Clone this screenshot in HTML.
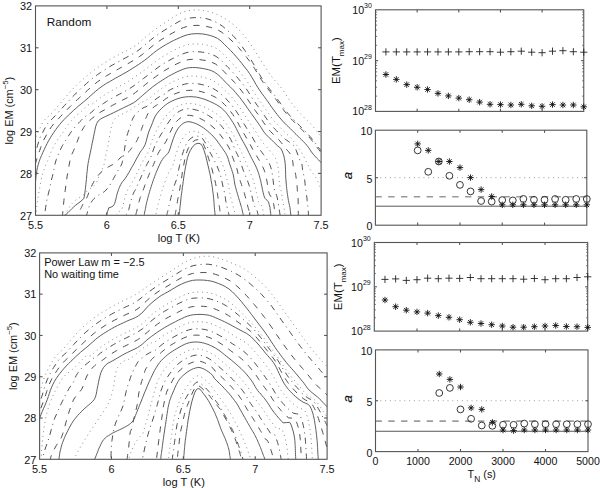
<!DOCTYPE html><html><head><meta charset="utf-8"><style>html,body{margin:0;padding:0;background:#fff;}svg{display:block;}</style></head><body><svg width="600" height="488" viewBox="0 0 600 488" font-family='"Liberation Sans", sans-serif' fill="#111">
<rect width="600" height="488" fill="#fff"/>
<clipPath id="clip5"><rect x="35.5" y="5.9" width="285.6" height="209.4"/></clipPath>
<g clip-path="url(#clip5)" fill="none">
<path d="M369.6 197.8 L367.6 195.2 L365.5 192.7 L363.5 190.1 L361.5 187.6 L359.6 185.1 L357.6 182.7 L355.7 180.2 L353.7 177.8 L351.9 175.4 L350.0 173.0 L348.1 170.7 L346.2 168.4 L344.4 166.0 L342.6 163.7 L340.8 161.4 L338.9 159.2 L337.1 156.8 L335.3 154.6 L333.5 152.3 L331.6 150.1 L329.9 147.8 L328.1 145.5 L326.2 143.2 L324.4 141.0 L322.6 138.7 L320.8 136.4 L319.0 134.1 L317.2 131.8 L315.4 129.5 L313.6 127.2 L311.6 124.9 L309.6 122.8 L307.5 120.7 L305.3 118.7 L303.2 116.6 L301.2 114.4 L299.1 112.2 L297.1 109.9 L295.1 107.6 L293.1 105.1 L291.2 102.5 L289.3 99.8 L287.4 96.9 L285.5 93.9 L283.6 90.9 L281.5 88.1 L279.3 85.4 L277.0 82.8 L274.6 80.2 L272.3 77.4 L270.0 74.3 L267.7 71.0 L265.4 67.5 L263.1 63.9 L260.7 60.1 L258.3 56.2 L255.7 52.1 L253.1 48.0 L250.4 44.0 L247.5 40.0 L244.5 36.1 L241.3 32.3 L238.0 28.8 L234.5 25.5 L230.9 22.7 L227.2 20.1 L223.4 17.7 L219.5 15.6 L215.5 13.8 L211.4 12.4 L207.3 11.3 L203.2 10.5 L199.0 10.0 L194.8 10.0 L190.6 10.4 L186.5 11.1 L182.4 12.3 L178.4 14.1 L174.5 16.4 L170.6 19.0 L166.9 21.4 L163.2 23.8 L159.6 26.3 L156.0 28.8 L152.5 31.4 L149.1 34.1 L145.8 36.8 L142.6 39.6 L139.5 42.5 L136.3 45.1 L133.1 47.2 L129.8 49.0 L126.5 50.7 L123.1 52.4 L119.8 54.1 L116.6 55.9 L113.3 57.6 L110.1 59.4 L107.0 61.3 L103.8 63.2 L100.8 65.3 L97.8 67.4 L94.8 69.6 L91.9 71.8 L89.1 74.1 L86.3 76.4 L83.5 78.8 L80.8 81.2 L78.1 83.6 L75.5 86.2 L73.0 88.8 L70.6 91.4 L68.2 94.1 L65.9 96.8 L63.5 99.6 L61.2 102.2 L58.9 104.9 L56.6 107.6 L54.4 110.3 L52.0 112.9 L49.5 115.4 L46.8 117.7 L44.3 120.2 L42.3 123.1 L40.8 126.4 L39.3 129.7 L37.7 132.8 L36.1 135.9 L35.4 139.6 L34.6 143.2 L33.8 146.8 L33.0 150.3 L32.2 153.7 L31.5 157.2 L30.7 160.5 L30.0 163.9 L29.3 167.2 L28.5 170.5 L27.8 173.8 L27.1 177.0 L26.4 180.3 L25.7 183.5 L25.0 186.7 L24.3 189.9 L23.6 193.0 L22.9 196.2 L22.2 199.3 L21.6 202.5 L20.8 205.6 L20.2 208.7 L19.5 211.9 L18.8 215.0 L18.2 218.1" stroke="#888" stroke-width="1.0" stroke-dasharray="1 3.7"/>
<path d="M363.6 199.7 L361.4 197.2 L359.4 194.8 L357.3 192.4 L355.2 190.0 L353.2 187.7 L351.3 185.4 L349.3 183.1 L347.3 180.9 L345.4 178.6 L343.5 176.4 L341.6 174.2 L339.6 172.0 L337.8 169.9 L336.0 167.7 L334.1 165.6 L332.2 163.5 L330.4 161.3 L328.6 159.2 L326.8 157.2 L325.0 155.1 L323.2 153.0 L321.4 150.9 L319.6 148.8 L317.9 146.7 L316.3 144.4 L314.6 142.2 L312.9 140.0 L311.2 137.8 L309.3 135.7 L307.5 133.7 L305.6 131.6 L303.6 129.6 L301.7 127.7 L299.7 125.7 L297.7 123.7 L295.7 121.7 L293.7 119.7 L291.7 117.6 L289.7 115.5 L287.8 113.2 L285.9 110.9 L284.0 108.5 L282.2 105.9 L280.3 103.2 L278.5 100.5 L276.5 97.8 L274.5 95.2 L272.4 92.5 L270.3 89.9 L268.1 87.2 L266.0 84.2 L263.8 81.2 L261.6 77.9 L259.5 74.4 L257.3 70.7 L255.1 66.6 L252.7 62.6 L250.3 58.6 L247.7 54.6 L245.0 50.7 L242.2 46.7 L239.3 42.8 L236.2 39.1 L233.0 35.6 L229.6 32.3 L226.1 29.3 L222.5 26.2 L218.8 23.7 L215.0 21.7 L211.0 20.1 L207.1 18.8 L203.0 18.0 L199.0 17.6 L194.9 17.6 L190.9 17.9 L186.9 18.6 L182.9 19.8 L179.0 21.5 L175.2 23.7 L171.5 25.9 L167.8 28.1 L164.2 30.4 L160.7 32.7 L157.2 35.1 L153.8 37.5 L150.5 40.1 L147.3 42.8 L144.2 45.5 L141.1 48.2 L138.0 50.6 L134.9 52.7 L131.7 54.5 L128.5 56.3 L125.3 58.0 L122.1 59.7 L119.0 61.5 L115.8 63.2 L112.7 64.9 L109.6 66.7 L106.6 68.6 L103.6 70.5 L100.6 72.5 L97.7 74.5 L94.8 76.6 L92.0 78.8 L89.3 81.1 L86.6 83.4 L84.0 85.8 L81.4 88.1 L78.9 90.6 L76.3 93.0 L73.9 95.5 L71.4 98.0 L69.1 100.5 L66.7 103.1 L64.4 105.6 L62.0 108.2 L59.7 110.7 L57.4 113.3 L55.1 115.8 L52.8 118.3 L50.3 120.7 L47.9 123.2 L46.0 126.1 L44.4 129.2 L42.8 132.3 L41.2 135.3 L39.6 138.4 L38.7 141.8 L37.6 145.2 L36.7 148.6 L35.7 151.9 L34.8 155.2 L34.0 158.5 L33.1 161.8 L32.4 165.1 L31.7 168.4 L31.0 171.7 L30.4 174.9 L29.8 178.2 L29.3 181.4 L28.7 184.6 L28.2 187.8 L27.7 191.0 L27.2 194.2 L26.7 197.3 L26.2 200.4 L25.7 203.6 L25.1 206.7 L24.6 209.7 L24.1 212.8 L23.6 215.9 L23.1 219.0" stroke="#505050" stroke-width="1.0" stroke-dasharray="6.2 4.3 1 4.3"/>
<path d="M362.7 199.9 L360.6 197.5 L358.5 195.1 L356.4 192.7 L354.3 190.4 L352.4 188.0 L350.4 185.7 L348.4 183.5 L346.4 181.3 L344.5 179.0 L342.6 176.8 L340.7 174.7 L338.7 172.5 L336.9 170.4 L335.1 168.2 L333.2 166.1 L331.3 164.1 L329.5 162.0 L327.7 159.9 L325.9 157.8 L324.1 155.8 L322.3 153.7 L320.4 151.7 L318.7 149.6 L317.0 147.4 L315.4 145.2 L313.8 143.0 L312.1 140.8 L310.4 138.6 L308.5 136.6 L306.7 134.6 L304.8 132.5 L302.8 130.6 L300.9 128.6 L298.9 126.7 L296.9 124.7 L294.9 122.7 L292.9 120.7 L291.0 118.7 L289.0 116.6 L287.1 114.4 L285.2 112.1 L283.3 109.6 L281.5 107.1 L279.6 104.5 L277.8 101.9 L275.8 99.2 L273.9 96.5 L271.8 93.9 L269.7 91.2 L267.6 88.5 L265.4 85.6 L263.3 82.5 L261.1 79.3 L259.0 75.8 L256.8 72.2 L254.5 68.4 L252.1 64.8 L249.6 61.2 L246.9 57.7 L244.2 54.2 L241.3 50.8 L238.4 47.4 L235.3 44.1 L232.1 41.0 L228.8 38.1 L225.4 35.3 L221.9 32.3 L218.2 30.1 L214.5 28.5 L210.7 27.4 L206.8 26.5 L202.9 25.8 L199.0 25.4 L195.1 25.4 L191.2 25.7 L187.3 26.4 L183.4 27.6 L179.7 29.2 L176.0 31.1 L172.4 33.1 L168.8 35.1 L165.3 37.2 L161.9 39.3 L158.5 41.5 L155.2 43.8 L152.0 46.4 L148.9 49.0 L145.8 51.6 L142.8 54.1 L139.8 56.3 L136.7 58.4 L133.7 60.3 L130.6 62.1 L127.5 63.9 L124.5 65.6 L121.4 67.3 L118.4 69.0 L115.4 70.6 L112.4 72.4 L109.4 74.1 L106.4 75.9 L103.5 77.8 L100.7 79.7 L97.8 81.6 L95.1 83.7 L92.5 85.9 L89.9 88.2 L87.3 90.5 L84.8 92.8 L82.3 95.1 L79.8 97.4 L77.3 99.7 L74.8 102.0 L72.4 104.3 L70.0 106.7 L67.6 109.1 L65.2 111.5 L62.9 113.9 L60.6 116.4 L58.4 118.8 L56.1 121.3 L53.8 123.8 L51.7 126.4 L49.8 129.2 L48.1 132.1 L46.4 135.0 L44.8 138.0 L43.2 140.9 L42.0 144.1 L40.8 147.3 L39.7 150.5 L38.6 153.6 L37.5 156.8 L36.5 159.9 L35.6 163.1 L34.8 166.3 L34.2 169.6 L33.6 172.9 L33.1 176.1 L32.7 179.4 L32.3 182.6 L31.9 185.9 L31.6 189.1 L31.2 192.2 L30.9 195.4 L30.5 198.5 L30.2 201.6 L29.9 204.7 L29.6 207.8 L29.2 210.8 L28.9 213.8 L28.6 216.9 L28.2 219.9" stroke="#505050" stroke-width="1.0" stroke-dasharray="6.2 6.6"/>
<path d="M374.3 219.1 L371.8 216.4 L369.4 213.8 L366.9 211.2 L364.5 208.7 L362.3 206.2 L360.0 203.8 L357.7 201.5 L355.6 199.1 L353.5 196.8 L351.3 194.6 L349.1 192.4 L347.1 190.1 L345.1 188.0 L343.1 185.8 L341.0 183.8 L339.1 181.7 L337.2 179.6 L335.3 177.5 L333.3 175.5 L331.4 173.5 L329.6 171.5 L327.7 169.6 L325.8 167.6 L324.0 165.7 L322.2 163.7 L320.4 161.8 L318.6 159.9 L316.7 158.0 L314.9 156.1 L313.2 154.2 L311.6 152.1 L310.1 149.9 L308.7 147.7 L307.1 145.6 L305.4 143.6 L303.6 141.7 L301.7 139.9 L299.8 138.1 L297.9 136.2 L296.0 134.3 L294.2 132.5 L292.3 130.6 L290.4 128.7 L288.5 126.9 L286.5 125.0 L284.6 123.1 L282.7 121.1 L280.9 119.0 L279.0 116.8 L277.2 114.5 L275.4 112.2 L273.6 109.8 L271.7 107.2 L269.9 104.6 L268.1 101.9 L266.1 99.2 L264.2 96.5 L262.1 93.8 L260.1 90.9 L258.0 87.8 L256.0 84.5 L254.0 80.9 L251.8 77.2 L249.6 73.6 L247.2 70.2 L244.6 67.0 L242.0 63.7 L239.3 60.3 L236.5 57.0 L233.6 53.7 L230.6 50.5 L227.5 47.4 L224.3 44.3 L221.0 40.9 L217.5 38.4 L213.9 36.7 L210.2 35.5 L206.5 34.6 L202.8 34.0 L199.0 33.7 L195.2 33.7 L191.5 34.0 L187.7 34.7 L184.0 35.9 L180.4 37.4 L176.8 39.0 L173.3 40.6 L169.8 42.5 L166.4 44.4 L163.1 46.3 L159.8 48.4 L156.6 50.6 L153.5 53.0 L150.5 55.5 L147.6 58.0 L144.6 60.3 L141.6 62.4 L138.7 64.4 L135.8 66.3 L132.8 68.2 L129.9 70.0 L127.0 71.8 L124.1 73.4 L121.1 75.1 L118.2 76.7 L115.3 78.3 L112.4 80.0 L109.5 81.7 L106.6 83.3 L103.8 85.1 L101.0 87.0 L98.4 89.0 L95.8 91.1 L93.3 93.3 L90.8 95.5 L88.4 97.7 L85.9 99.9 L83.4 102.0 L80.9 104.1 L78.3 106.2 L75.9 108.3 L73.4 110.5 L71.0 112.8 L68.6 115.0 L66.3 117.3 L64.0 119.6 L61.8 122.0 L59.6 124.5 L57.6 127.1 L55.7 129.7 L53.8 132.4 L52.0 135.1 L50.3 137.9 L48.6 140.7 L47.1 143.6 L45.6 146.5 L44.2 149.5 L42.9 152.4 L41.6 155.4 L40.3 158.4 L39.2 161.4 L38.2 164.5 L37.4 167.7 L36.8 170.9 L36.3 174.1 L35.9 177.4 L35.6 180.7 L35.4 183.9 L35.3 187.2 L35.2 190.4 L35.0 193.5 L34.9 196.7 L34.7 199.8 L34.5 202.8 L34.4 205.9 L34.2 208.9 L34.1 211.9 L34.0 214.9 L33.9 217.9 L33.7 220.8 L33.5 223.8 L33.4 226.7 L33.3 229.7 L33.1 232.6 L33.0 235.5 L32.8 238.4 L32.8 241.3" stroke="#555" stroke-width="0.95"/>
<path d="M323.0 190.0 L322.3 189.3 L321.3 188.3 L320.2 187.1 L319.3 185.9 L318.7 184.6 L318.4 183.2 L318.0 181.8 L317.4 180.4 L316.6 179.0 L315.7 177.6 L314.7 176.2 L313.7 174.8 L312.8 173.5 L311.9 172.2 L311.0 170.8 L310.1 169.3 L309.2 167.6 L308.3 165.7 L307.3 163.8 L306.4 161.9 L305.5 160.1 L304.6 158.2 L303.7 156.4 L302.7 154.5 L301.6 152.6 L300.5 150.8 L299.3 148.9 L298.0 147.0 L296.5 144.9 L294.7 142.7 L293.1 140.7 L292.0 139.3 L290.2 137.4 L288.4 135.6 L286.5 133.8 L284.7 132.1 L282.8 130.3 L281.0 128.4 L279.2 126.5 L277.4 124.6 L275.6 122.6 L273.8 120.5 L272.0 118.2 L270.3 115.9 L268.6 113.4 L266.9 110.9 L265.1 108.3 L263.3 105.7 L261.4 103.1 L259.4 100.5 L257.5 97.7 L255.5 94.8 L253.5 91.7 L251.5 88.3 L249.5 84.9 L247.3 81.6 L245.0 78.4 L242.5 75.4 L240.0 72.3 L237.4 69.2 L234.8 66.0 L232.0 63.0 L229.1 60.0 L226.1 57.0 L223.1 54.0 L219.9 50.9 L216.6 48.5 L213.2 46.9 L209.7 45.8 L206.2 44.9 L202.6 44.3 L199.0 44.0 L195.4 43.9 L191.8 44.0 L188.2 44.6 L184.7 45.6 L181.2 46.9 L177.8 48.4 L174.4 50.0 L171.1 51.7 L167.9 53.5 L164.7 55.4 L161.5 57.3 L158.5 59.4 L155.5 61.6 L152.6 63.9 L149.7 66.2 L146.9 68.3 L144.1 70.4 L141.3 72.4 L138.5 74.4 L135.8 76.3 L133.1 78.2 L130.3 80.0 L127.6 81.8 L124.8 83.4 L122.0 84.9 L119.2 86.5 L116.4 88.0 L113.7 89.5 L110.9 91.1 L108.2 92.7 L105.5 94.3 L102.8 96.1 L100.3 98.0 L97.7 99.9 L95.2 101.8 L92.7 103.7 L87.9 104.9 L86.8 106.0 L85.3 107.6 L83.5 109.4 L81.7 111.1 L79.9 112.6 L78.0 114.1 L76.2 115.6 L74.4 117.2 L72.7 119.0 L71.2 120.8 L69.6 122.7 L68.2 124.6 L66.9 126.4 L65.8 128.2 L64.6 130.1 L63.3 132.0 L61.8 134.1 L60.2 136.2 L58.6 138.4 L57.1 140.6 L55.8 142.7 L54.5 144.8 L53.3 147.0 L52.2 149.2 L51.2 151.5 L50.3 153.9 L49.4 156.4 L48.5 158.7 L47.6 160.9 L46.6 163.0 L45.7 165.1 L44.8 167.3 L44.0 169.7 L43.2 172.1 L42.5 174.6 L41.8 177.1 L41.2 179.6 L40.8 182.1 L40.3 184.5 L39.9 187.0 L39.4 189.5 L39.0 191.9 L38.5 194.3 L38.1 196.8 L37.7 199.3 L37.4 201.8 L37.1 204.3 L36.8 206.7 L36.5 209.3 L36.3 212.0 L36.1 214.3 L36.0 216.0" stroke="#888" stroke-width="1.0" stroke-dasharray="1 3.7"/>
<path d="M308.4 217.0 L308.4 215.7 L308.4 213.9 L308.3 211.9 L308.2 209.9 L308.0 208.1 L307.8 206.3 L307.5 204.5 L307.3 202.5 L307.1 200.2 L306.9 197.8 L306.6 195.4 L306.4 193.3 L306.2 191.7 L305.9 190.5 L305.6 189.3 L305.4 187.7 L305.2 185.6 L305.0 183.2 L304.8 180.8 L304.5 178.5 L304.1 176.5 L303.6 174.7 L303.1 172.9 L302.7 171.1 L302.5 169.2 L302.3 167.3 L302.1 165.4 L301.8 163.7 L301.3 162.3 L300.6 161.1 L299.8 159.9 L299.0 158.2 L298.1 155.8 L297.2 153.0 L296.2 150.3 L295.3 148.1 L294.6 146.8 L294.1 145.9 L293.5 145.3 L292.5 144.4 L290.9 143.1 L288.8 141.7 L286.8 140.3 L285.4 139.4 L283.6 137.7 L281.8 136.0 L280.0 134.3 L278.2 132.5 L276.5 130.7 L274.7 128.9 L272.9 127.0 L271.2 125.0 L269.5 122.9 L267.8 120.6 L266.2 118.1 L264.5 115.7 L262.8 113.1 L261.0 110.6 L259.2 108.1 L257.4 105.6 L255.5 102.9 L253.5 100.2 L251.6 97.2 L249.7 94.1 L247.7 90.9 L245.5 87.7 L243.3 84.7 L240.9 81.8 L238.5 78.9 L236.0 75.9 L233.4 73.0 L230.7 70.1 L227.9 67.3 L225.1 64.4 L222.2 61.4 L219.1 58.6 L215.9 56.3 L212.7 54.8 L209.3 53.6 L205.9 52.8 L202.5 52.2 L199.0 51.8 L195.5 51.7 L192.1 51.7 L188.6 52.1 L185.2 53.0 L181.9 54.3 L178.6 55.7 L175.3 57.2 L172.1 58.8 L169.0 60.5 L165.9 62.3 L162.9 64.1 L159.9 66.1 L157.0 68.2 L154.2 70.3 L151.4 72.4 L148.7 74.5 L146.0 76.6 L143.3 78.6 L140.7 80.6 L138.1 82.6 L135.5 84.5 L132.9 86.4 L130.3 88.1 L127.7 89.8 L125.0 91.2 L122.3 92.7 L119.6 94.1 L116.9 95.5 L114.2 97.0 L111.5 98.5 L108.9 100.0 L106.3 101.6 L103.7 103.3 L101.2 104.9 L98.6 106.6 L96.1 108.3 L93.6 110.1 L91.6 112.3 L90.8 112.8 L89.6 113.5 L88.2 114.3 L86.7 115.4 L85.1 116.7 L83.3 118.3 L81.6 120.0 L80.0 121.5 L78.8 122.8 L77.7 123.9 L76.7 125.0 L75.6 126.4 L74.2 128.0 L72.7 129.9 L71.3 131.8 L70.0 133.5 L69.0 135.1 L68.1 136.5 L67.3 137.9 L66.4 139.4 L65.4 140.9 L64.4 142.4 L63.5 143.9 L62.5 145.5 L61.6 147.2 L60.7 149.0 L59.9 150.9 L59.0 152.9 L58.1 155.0 L57.2 157.3 L56.3 159.6 L55.5 162.0 L54.9 164.5 L54.4 167.1 L53.9 169.7 L53.4 172.2 L52.8 174.5 L52.3 176.8 L51.7 178.9 L51.2 181.0 L50.8 182.9 L50.5 184.5 L50.2 186.3 L49.8 188.2 L49.2 190.5 L48.5 193.1 L47.9 195.7 L47.3 198.0 L46.9 199.9 L46.6 201.4 L46.3 203.0 L46.0 205.0 L45.6 207.7 L45.2 210.9 L44.8 213.9 L44.5 216.0" stroke="#505050" stroke-width="1.0" stroke-dasharray="6.2 4.3 1 4.3"/>
<path d="M298.3 217.0 L298.3 213.4 L298.2 208.2 L298.2 202.9 L298.1 198.8 L298.0 196.6 L297.8 195.4 L297.6 194.5 L297.5 193.3 L297.4 191.6 L297.3 189.7 L297.2 187.8 L297.1 185.9 L296.9 184.0 L296.7 182.1 L296.4 180.2 L296.2 178.5 L296.0 177.0 L295.8 175.6 L295.6 174.3 L295.3 173.0 L294.9 171.6 L294.4 170.3 L293.9 168.9 L293.5 167.4 L293.2 165.7 L293.0 163.8 L292.8 161.8 L292.5 160.1 L292.2 158.6 L291.8 157.2 L291.4 155.9 L290.7 154.5 L289.7 153.1 L288.5 151.6 L287.2 150.2 L286.1 149.0 L285.3 148.0 L284.7 147.1 L284.1 146.3 L283.3 145.3 L282.2 143.9 L281.0 142.4 L279.8 140.9 L279.0 139.9 L277.3 138.2 L275.5 136.5 L273.8 134.8 L272.1 133.1 L270.3 131.3 L268.6 129.4 L267.0 127.4 L265.4 125.1 L263.8 122.8 L262.2 120.3 L260.6 117.9 L258.9 115.5 L257.1 113.1 L255.3 110.6 L253.5 108.0 L251.6 105.4 L249.8 102.6 L247.8 99.7 L245.9 96.7 L243.8 93.8 L241.6 90.9 L239.4 88.1 L237.0 85.3 L234.6 82.5 L232.1 79.8 L229.5 77.1 L226.8 74.5 L224.1 71.6 L221.3 68.7 L218.3 66.1 L215.3 63.9 L212.1 62.4 L208.9 61.3 L205.6 60.5 L202.3 60.0 L199.0 59.5 L195.7 59.3 L192.3 59.3 L189.0 59.6 L185.7 60.3 L182.5 61.4 L179.3 62.7 L176.2 64.2 L173.1 65.7 L170.1 67.3 L167.1 69.1 L164.2 70.8 L161.3 72.7 L158.5 74.6 L155.8 76.6 L153.1 78.6 L150.4 80.6 L147.8 82.6 L145.3 84.6 L142.8 86.7 L140.3 88.6 L137.8 90.6 L135.4 92.6 L132.9 94.4 L130.4 96.0 L127.8 97.4 L125.2 98.8 L122.6 100.1 L120.0 101.4 L117.4 102.8 L114.8 104.1 L112.2 105.5 L109.6 107.0 L107.1 108.4 L104.5 109.9 L101.9 111.3 L99.3 112.8 L97.0 115.0 L96.3 115.4 L95.3 116.0 L94.1 116.8 L92.8 117.8 L91.3 119.0 L89.7 120.5 L88.1 122.0 L86.7 123.4 L85.7 124.5 L85.0 125.6 L84.3 126.6 L83.6 127.7 L82.8 129.0 L82.0 130.3 L81.2 131.7 L80.5 133.2 L79.8 134.7 L79.2 136.2 L78.6 137.8 L78.0 139.4 L77.4 141.1 L76.8 142.8 L76.2 144.5 L75.6 146.1 L75.0 147.6 L74.3 148.9 L73.7 150.3 L73.1 151.7 L72.5 153.0 L71.9 154.1 L71.3 155.6 L70.7 157.8 L69.9 161.1 L69.1 165.2 L68.3 169.5 L67.6 173.5 L67.0 177.0 L66.6 180.4 L66.1 183.7 L65.7 187.0 L65.2 190.3 L64.8 193.6 L64.3 197.0 L63.9 200.5 L63.5 204.6 L63.1 209.1 L62.7 213.2 L62.5 216.0" stroke="#505050" stroke-width="1.0" stroke-dasharray="6.2 6.6"/>
<path d="M294.7 246.7 L294.5 245.0 L294.2 243.3 L294.1 241.7 L293.9 240.0 L293.8 238.4 L293.6 236.7 L293.3 235.1 L293.1 233.4 L292.8 231.8 L292.7 230.1 L292.5 228.4 L292.3 226.7 L292.1 225.1 L291.9 223.4 L291.6 221.7 L291.4 220.0 L291.3 218.2 L291.0 216.5 L290.8 214.8 L290.6 213.0 L290.4 211.2 L290.2 209.4 L290.0 207.6 L289.5 205.8 L289.2 204.1 L288.8 202.3 L288.4 200.4 L288.1 198.6 L287.8 196.7 L287.5 194.7 L287.2 192.7 L287.0 190.7 L286.7 188.6 L286.5 186.4 L286.3 184.2 L286.1 182.0 L285.9 179.6 L285.7 177.2 L285.6 174.7 L285.6 172.1 L285.5 169.3 L285.4 166.6 L285.2 163.8 L284.9 161.0 L284.4 158.4 L283.8 155.8 L283.0 153.3 L282.1 150.9 L281.0 148.8 L279.4 147.1 L277.6 145.8 L275.9 144.2 L274.2 142.5 L272.6 140.9 L270.9 139.2 L269.2 137.7 L267.5 136.0 L265.8 134.3 L264.2 132.3 L262.7 130.1 L261.3 127.8 L259.7 125.5 L258.2 123.1 L256.5 120.8 L254.8 118.4 L253.1 116.0 L251.4 113.6 L249.6 111.1 L247.7 108.5 L245.9 105.8 L243.9 103.0 L241.9 100.3 L239.8 97.6 L237.7 95.0 L235.4 92.3 L233.1 89.7 L230.6 87.2 L228.1 84.8 L225.6 82.3 L223.0 79.5 L220.3 76.7 L217.5 74.3 L214.6 72.3 L211.5 70.7 L208.4 69.7 L205.3 69.0 L202.2 68.4 L199.0 67.9 L195.8 67.6 L192.6 67.5 L189.4 67.7 L186.3 68.2 L183.2 69.2 L180.1 70.5 L177.1 71.8 L174.2 73.3 L171.3 74.8 L168.4 76.4 L165.6 78.1 L162.8 79.9 L160.1 81.6 L157.5 83.4 L154.9 85.2 L152.3 87.2 L149.8 89.2 L147.4 91.2 L145.0 93.3 L142.7 95.3 L140.4 97.3 L138.1 99.3 L135.8 101.2 L133.5 102.8 L131.0 104.1 L128.5 105.4 L125.9 106.6 L123.4 107.8 L120.9 109.1 L118.4 110.3 L115.8 111.6 L113.3 112.8 L110.7 114.1 L108.1 115.3 L105.5 116.5 L102.9 117.7 L100.4 119.2 L98.2 120.9 L96.7 123.6 L95.6 126.8 L94.9 130.3 L94.2 133.6 L93.5 136.9 L92.9 140.1 L92.2 143.2 L91.6 146.3 L91.0 149.3 L90.4 152.2 L89.8 155.0 L89.2 157.8 L88.6 160.6 L88.1 163.4 L87.7 166.1 L87.4 168.9 L87.1 171.6 L86.8 174.3 L86.6 177.0 L86.4 179.6 L86.1 182.2 L85.8 184.7 L85.6 187.1 L85.3 189.6 L85.0 191.9 L84.7 194.3 L84.3 196.5 L83.7 198.7 L81.9 200.3 L80.0 201.9 L77.9 203.5 L75.8 205.1 L73.7 206.9 L71.8 208.7 L70.0 210.6 L68.1 212.5 L66.0 214.4 L63.6 216.2 L61.1 218.2 L58.5 220.1 L55.8 222.2 L53.2 224.3 L50.3 226.5 L47.4 228.7 L44.5 231.0 L41.4 233.4 L38.1 235.9" stroke="#555" stroke-width="0.95"/>
<path d="M289.0 246.9 L288.8 245.3 L288.5 243.7 L288.3 242.2 L288.2 240.6 L288.0 239.1 L287.9 237.5 L287.7 236.0 L287.4 234.4 L287.2 232.9 L287.0 231.3 L286.9 229.7 L286.7 228.1 L286.5 226.6 L286.3 225.0 L286.1 223.4 L285.9 221.8 L285.7 220.1 L285.5 218.5 L285.2 216.9 L285.1 215.2 L284.9 213.6 L284.7 211.9 L284.5 210.1 L284.1 208.5 L283.8 206.8 L283.5 205.1 L283.2 203.3 L282.9 201.6 L282.6 199.8 L282.3 198.0 L282.0 196.1 L281.7 194.2 L281.4 192.3 L280.9 190.5 L280.4 188.6 L280.0 186.7 L279.7 184.7 L279.4 182.5 L279.2 180.3 L279.0 177.9 L278.9 175.5 L278.7 173.0 L278.5 170.5 L278.1 168.1 L277.7 165.6 L277.1 163.2 L276.4 160.9 L275.7 158.6 L274.7 156.6 L273.4 154.8 L271.9 153.3 L270.5 151.6 L269.1 149.9 L267.7 148.2 L266.2 146.5 L264.7 144.8 L263.2 143.1 L261.8 141.3 L260.3 139.3 L259.0 137.2 L257.6 135.0 L256.2 132.6 L254.8 130.3 L253.3 128.0 L251.8 125.7 L250.2 123.4 L248.5 121.0 L246.9 118.5 L245.2 115.9 L243.5 113.1 L241.7 110.4 L239.8 107.6 L237.9 104.9 L235.8 102.2 L233.7 99.6 L231.5 97.0 L229.2 94.5 L226.8 92.1 L224.4 89.8 L221.9 87.3 L219.3 84.8 L216.6 82.8 L213.8 81.0 L210.9 79.6 L208.0 78.6 L205.0 77.7 L202.0 77.1 L199.0 76.5 L196.0 76.2 L192.9 76.0 L189.9 76.1 L186.9 76.5 L183.9 77.3 L180.9 78.3 L178.1 79.4 L175.2 80.6 L172.4 82.0 L169.6 83.5 L166.9 85.0 L164.3 86.7 L161.7 88.4 L159.2 90.2 L156.7 92.1 L154.3 94.0 L152.0 96.1 L148.8 98.6 L146.7 99.8 L143.6 101.5 L140.2 103.4 L137.3 105.1 L134.9 106.6 L132.8 108.1 L130.8 109.5 L128.7 110.8 L126.5 112.0 L124.2 113.0 L122.1 114.1 L120.1 115.1 L118.4 116.1 L116.8 117.1 L115.5 118.1 L114.3 119.4 L113.4 121.0 L112.6 122.8 L112.0 124.7 L111.5 126.6 L111.0 128.4 L110.7 130.1 L110.3 131.9 L110.0 133.8 L109.6 135.9 L109.3 138.1 L108.9 140.3 L108.6 142.4 L108.3 144.3 L107.9 146.1 L107.6 147.8 L107.2 149.6 L106.8 151.4 L106.4 153.1 L105.9 154.9 L105.5 156.7 L105.2 158.6 L104.9 160.6 L104.5 162.6 L104.0 164.7 L103.2 166.9 L102.2 169.3 L101.1 171.6 L100.0 174.0 L99.0 176.4 L98.0 179.0 L97.0 181.3 L96.0 183.3 L95.0 184.7 L94.0 185.7 L93.0 186.5 L92.0 187.3 L91.0 188.0 L90.0 188.6 L89.0 189.2 L88.0 190.0 L87.1 191.0 L86.2 192.1 L85.2 193.3 L84.0 194.5 L82.4 195.6 L80.5 196.8 L78.6 198.0 L76.8 199.3 L75.2 200.6 L73.7 202.0 L72.2 203.5 L70.7 205.4 L68.9 208.0 L67.0 211.1 L65.2 214.0 L64.0 216.0" stroke="#888" stroke-width="1.0" stroke-dasharray="1 3.7"/>
<path d="M284.0 247.0 L283.8 245.6 L283.6 244.1 L283.3 242.6 L283.2 241.1 L283.1 239.7 L282.9 238.2 L282.8 236.7 L282.6 235.3 L282.4 233.8 L282.2 232.3 L282.0 230.8 L281.8 229.4 L281.6 227.9 L281.5 226.4 L281.3 224.8 L281.1 223.3 L280.9 221.8 L280.7 220.3 L280.5 218.7 L280.3 217.2 L280.1 215.6 L279.9 214.0 L279.7 212.4 L279.4 210.8 L279.2 209.2 L278.9 207.5 L278.6 205.9 L278.4 204.2 L278.1 202.4 L277.8 200.8 L277.5 199.0 L277.1 197.3 L276.7 195.6 L276.1 194.0 L275.4 192.4 L274.7 190.8 L274.3 189.0 L273.9 187.1 L273.7 185.1 L273.4 183.0 L273.2 180.8 L272.9 178.6 L272.7 176.3 L272.3 174.1 L271.9 171.9 L271.4 169.6 L270.8 167.4 L270.1 165.3 L269.2 163.3 L268.2 161.4 L267.0 159.7 L265.9 158.0 L264.7 156.2 L263.4 154.5 L262.2 152.7 L260.9 151.0 L259.6 149.2 L258.3 147.4 L257.0 145.4 L255.7 143.3 L254.5 141.1 L253.2 138.8 L251.9 136.6 L250.5 134.3 L249.1 132.0 L247.6 129.7 L246.1 127.3 L244.6 124.8 L243.0 122.2 L241.4 119.5 L239.8 116.7 L238.0 113.9 L236.2 111.2 L234.3 108.5 L232.3 105.9 L230.2 103.3 L228.0 100.8 L225.7 98.5 L223.4 96.2 L220.9 94.0 L218.4 91.9 L215.8 90.1 L213.1 88.5 L210.4 87.2 L207.6 86.2 L204.8 85.3 L201.9 84.6 L199.0 84.0 L196.1 83.5 L193.2 83.3 L190.3 83.3 L187.4 83.6 L184.5 84.2 L181.7 85.0 L178.9 85.9 L176.1 87.0 L173.4 88.2 L170.7 89.5 L168.1 91.0 L165.5 92.5 L164.6 94.0 L163.4 94.6 L161.6 95.5 L159.6 96.6 L157.4 98.0 L154.9 99.9 L152.2 102.1 L149.5 104.3 L147.3 106.0 L145.9 106.8 L144.9 107.2 L144.1 107.4 L143.0 108.0 L141.5 109.1 L139.7 110.5 L138.0 111.9 L136.5 113.3 L135.4 114.4 L134.5 115.4 L133.8 116.6 L133.0 118.0 L132.2 119.9 L131.5 122.2 L130.8 124.6 L130.1 126.6 L129.5 128.2 L129.0 129.6 L128.5 130.9 L128.0 132.3 L127.6 133.7 L127.2 135.0 L126.9 136.4 L126.5 138.0 L126.1 139.8 L125.7 141.8 L125.4 143.9 L125.0 146.0 L124.7 148.2 L124.4 150.5 L124.0 152.8 L123.7 155.0 L123.3 157.2 L123.0 159.3 L122.5 161.4 L122.0 163.3 L121.3 165.0 L120.5 166.4 L119.6 167.9 L118.7 169.3 L117.9 170.8 L117.0 172.3 L116.1 173.8 L115.3 175.3 L114.5 176.8 L113.6 178.4 L112.8 179.9 L112.0 181.3 L111.3 182.6 L110.7 183.7 L110.1 184.8 L109.3 186.0 L108.3 187.3 L107.2 188.7 L106.0 190.1 L104.7 191.3 L103.4 192.3 L102.0 193.1 L100.7 193.9 L99.3 194.7 L97.9 195.6 L96.5 196.6 L95.2 197.6 L94.0 198.7 L93.0 199.8 L92.2 200.8 L91.4 202.0 L90.7 203.3 L90.0 204.8 L89.2 206.6 L88.6 208.3 L88.0 210.0 L87.5 211.7 L87.1 213.4 L86.7 214.9 L86.5 216.0" stroke="#505050" stroke-width="1.0" stroke-dasharray="6.2 4.3 1 4.3"/>
<path d="M279.3 247.2 L279.1 245.8 L278.8 244.4 L278.6 243.0 L278.5 241.6 L278.4 240.3 L278.2 238.9 L278.1 237.5 L277.9 236.1 L277.7 234.7 L277.5 233.3 L277.3 231.9 L277.1 230.5 L277.0 229.1 L276.8 227.7 L276.7 226.3 L276.5 224.8 L276.3 223.4 L276.1 221.9 L275.9 220.5 L275.7 219.0 L275.6 217.5 L275.4 216.0 L275.2 214.5 L274.9 213.0 L274.7 211.4 L274.5 209.9 L274.3 208.3 L274.1 206.7 L273.9 205.0 L273.5 203.5 L273.2 201.8 L272.8 200.2 L272.3 198.7 L271.5 197.3 L270.5 196.1 L269.7 194.8 L269.1 193.2 L268.7 191.5 L268.3 189.7 L268.0 187.9 L267.7 185.9 L267.4 183.9 L267.1 181.9 L266.7 179.9 L266.3 177.8 L265.8 175.8 L265.3 173.7 L264.7 171.7 L264.0 169.7 L263.2 167.8 L262.3 166.0 L261.4 164.1 L260.4 162.3 L259.4 160.5 L258.3 158.7 L257.2 156.9 L256.0 155.1 L254.9 153.2 L253.8 151.2 L252.6 149.2 L251.5 147.0 L250.3 144.8 L249.1 142.5 L247.9 140.3 L246.5 138.0 L245.2 135.7 L243.8 133.4 L242.3 130.9 L240.9 128.3 L239.4 125.6 L237.9 122.7 L236.3 119.9 L234.6 117.2 L232.8 114.5 L230.9 111.9 L228.9 109.3 L226.8 106.8 L224.6 104.6 L222.4 102.4 L220.0 100.5 L217.6 98.7 L215.1 97.1 L212.5 95.8 L209.9 94.5 L207.2 93.5 L204.5 92.6 L201.8 91.8 L199.0 91.1 L196.2 90.6 L193.4 90.4 L190.6 90.3 L187.8 90.4 L185.1 90.8 L182.3 91.4 L179.6 92.2 L176.9 93.1 L174.3 94.1 L171.7 95.3 L169.2 96.7 L166.7 98.2 L164.3 99.8 L161.7 102.5 L160.4 103.2 L158.5 104.1 L156.4 105.3 L154.5 106.5 L152.9 107.8 L151.4 109.3 L150.0 110.8 L148.8 112.3 L147.9 113.7 L147.2 115.1 L146.6 116.5 L145.9 118.0 L145.2 119.7 L144.4 121.6 L143.7 123.5 L143.0 125.2 L142.4 126.7 L141.9 128.1 L141.5 129.4 L140.9 130.9 L140.2 132.7 L139.5 134.6 L138.7 136.5 L138.0 138.1 L137.5 139.3 L137.0 140.3 L136.6 141.3 L135.9 142.4 L135.0 143.8 L133.8 145.2 L132.7 146.7 L131.6 148.1 L130.8 149.2 L130.0 150.3 L129.2 151.3 L128.0 152.4 L126.2 153.7 L124.0 155.2 L121.8 156.6 L120.0 158.0 L118.8 159.3 L118.0 160.4 L117.1 161.6 L116.0 162.7 L114.4 163.7 L112.5 164.7 L110.5 165.7 L108.7 166.7 L107.1 167.6 L105.6 168.5 L104.2 169.5 L102.7 170.7 L101.1 172.2 L99.5 173.9 L98.0 175.7 L96.7 177.3 L95.7 178.7 L94.9 179.9 L94.1 181.2 L93.3 182.7 L92.3 184.7 L91.2 187.0 L90.2 189.3 L89.3 191.3 L88.7 192.8 L88.3 194.0 L87.9 195.2 L87.3 196.7 L86.3 198.6 L85.0 200.8 L83.7 202.9 L82.7 204.7 L82.1 205.9 L81.7 206.7 L81.3 207.6 L80.7 208.7 L79.7 210.5 L78.5 212.6 L77.3 214.6 L76.5 216.0" stroke="#505050" stroke-width="1.0" stroke-dasharray="6.2 6.6"/>
<path d="M274.9 247.3 L274.7 246.0 L274.5 244.7 L274.2 243.4 L274.1 242.1 L274.0 240.8 L273.9 239.5 L273.8 238.2 L273.6 236.8 L273.4 235.5 L273.2 234.2 L273.0 232.9 L272.8 231.6 L272.7 230.3 L272.6 228.9 L272.5 227.5 L272.3 226.2 L272.1 224.8 L271.9 223.5 L271.7 222.1 L271.5 220.7 L271.4 219.3 L271.2 217.8 L271.0 216.4 L270.8 215.0 L270.7 213.5 L270.5 212.0 L270.3 210.5 L270.1 208.9 L270.0 207.4 L269.5 205.9 L269.2 204.4 L268.8 202.9 L268.2 201.5 L267.3 200.4 L266.1 199.5 L265.1 198.4 L264.4 197.1 L263.9 195.6 L263.5 194.0 L263.1 192.3 L262.7 190.6 L262.3 188.8 L262.0 187.0 L261.6 185.2 L261.2 183.3 L260.8 181.4 L260.3 179.5 L259.8 177.5 L259.3 175.6 L258.7 173.6 L258.0 171.7 L257.3 169.7 L256.5 167.9 L255.7 166.0 L254.7 164.2 L253.8 162.3 L252.8 160.4 L251.8 158.5 L250.8 156.6 L249.8 154.5 L248.7 152.4 L247.7 150.2 L246.6 148.0 L245.4 145.8 L244.2 143.5 L242.9 141.3 L241.6 139.0 L240.3 136.5 L239.0 133.9 L237.6 131.2 L236.2 128.3 L234.7 125.5 L233.1 122.7 L231.4 120.1 L229.6 117.4 L227.7 114.8 L225.8 112.3 L223.7 110.1 L221.5 108.1 L219.2 106.4 L216.8 104.9 L214.4 103.6 L211.9 102.4 L209.4 101.3 L206.9 100.2 L204.3 99.2 L201.6 98.4 L199.0 97.7 L196.3 97.1 L193.7 96.8 L191.0 96.7 L188.3 96.7 L185.6 96.9 L183.0 97.3 L180.3 97.9 L177.7 98.7 L175.2 99.6 L172.7 100.7 L170.2 101.9 L167.8 103.3 L165.5 105.0 L163.3 106.8 L161.2 108.8 L159.1 110.9 L157.2 113.3 L155.4 115.9 L153.9 119.0 L152.6 122.5 L151.3 125.9 L150.0 128.8 L148.8 131.8 L147.8 135.0 L146.9 138.4 L146.1 141.6 L145.2 144.4 L144.1 146.7 L142.8 148.6 L141.5 150.4 L140.2 152.2 L139.1 154.1 L138.0 156.1 L136.9 158.0 L135.9 159.9 L134.9 161.8 L133.9 163.6 L132.9 165.4 L131.9 167.1 L130.9 168.9 L130.0 170.6 L129.0 172.3 L128.1 173.9 L127.1 175.5 L126.1 177.1 L125.1 178.6 L124.0 180.0 L122.8 181.4 L121.7 182.8 L120.8 184.4 L120.0 186.0 L119.3 187.7 L118.6 189.4 L118.0 191.2 L117.4 192.9 L116.9 194.6 L116.5 196.4 L116.1 198.2 L115.7 199.9 L115.2 201.6 L114.7 203.3 L114.0 204.8 L112.9 206.2 L111.0 207.1 L108.7 207.9 L108.3 209.6 L107.7 211.2 L107.0 212.8 L106.4 214.5 L105.7 216.1 L105.1 217.7 L104.5 219.3 L103.8 220.9 L103.2 222.5 L102.5 224.1 L101.8 225.8 L101.2 227.4 L100.6 229.1 L100.0 230.8 L99.2 232.4 L98.5 234.1 L97.8 235.8 L97.2 237.5" stroke="#555" stroke-width="0.95"/>
<path d="M268.6 247.6 L268.4 246.4 L268.2 245.2 L267.9 244.0 L267.8 242.8 L267.6 241.6 L267.5 240.4 L267.3 239.2 L267.2 238.0 L267.0 236.8 L266.8 235.6 L266.6 234.4 L266.4 233.2 L266.2 232.0 L266.1 230.8 L265.9 229.5 L265.8 228.3 L265.6 227.1 L265.3 225.9 L265.1 224.6 L264.9 223.4 L264.8 222.1 L264.6 220.8 L264.4 219.5 L264.2 218.2 L264.0 216.9 L263.8 215.5 L263.6 214.2 L263.4 212.8 L263.2 211.4 L262.9 210.1 L262.6 208.7 L262.2 207.4 L261.7 206.1 L261.0 205.0 L260.0 204.0 L259.2 203.0 L258.6 201.7 L258.2 200.3 L257.8 198.8 L257.5 197.3 L257.1 195.8 L256.8 194.2 L256.4 192.6 L256.1 190.9 L255.7 189.2 L255.3 187.5 L254.8 185.8 L254.4 184.0 L253.9 182.2 L253.4 180.4 L252.8 178.6 L252.1 176.9 L251.4 175.1 L250.7 173.4 L249.9 171.6 L249.1 169.8 L248.3 168.0 L247.4 166.2 L246.5 164.2 L245.7 162.2 L244.8 160.1 L243.9 157.8 L243.0 155.6 L242.0 153.3 L241.0 151.1 L239.9 148.9 L238.7 146.6 L237.5 144.2 L236.3 141.6 L235.1 138.8 L233.9 136.0 L232.5 133.3 L231.0 130.7 L229.4 128.2 L227.7 125.8 L225.9 123.3 L224.1 121.0 L222.1 118.8 L220.1 116.7 L218.0 114.9 L215.8 113.3 L213.5 111.9 L211.2 110.5 L208.8 109.3 L206.4 108.1 L204.0 106.9 L201.5 105.9 L199.0 105.1 L196.5 104.4 L193.9 103.9 L191.3 103.6 L188.8 103.5 L186.2 103.6 L183.7 104.0 L181.2 104.8 L178.7 105.7 L176.3 106.9 L174.0 108.3 L171.8 110.0 L169.7 111.9 L167.6 114.1 L165.7 116.4 L163.8 118.7 L162.1 121.2 L160.4 123.6 L158.7 126.1 L157.3 128.8 L155.9 131.7 L154.7 134.5 L153.4 137.1 L152.2 139.8 L151.2 142.6 L150.3 145.6 L149.5 148.5 L148.6 151.0 L147.6 153.2 L146.4 155.1 L145.2 156.9 L144.2 158.7 L143.1 160.6 L142.2 162.5 L141.2 164.4 L140.3 166.2 L139.4 168.0 L138.6 169.8 L137.7 171.5 L136.8 173.2 L136.0 174.9 L135.2 176.6 L134.4 178.2 L133.6 179.8 L132.7 181.4 L131.9 182.9 L131.1 184.4 L130.2 185.8 L129.2 187.2 L128.4 188.6 L127.6 190.1 L127.0 191.7 L126.4 193.2 L125.8 194.9 L125.3 196.5 L124.8 198.1 L124.4 199.7 L124.0 201.3 L123.6 202.9 L123.2 204.5 L122.8 206.0 L122.4 207.5 L121.9 209.0 L121.0 210.3 L119.6 211.3 L117.8 212.1 L117.4 213.7 L116.9 215.1 L116.4 216.6 L115.9 218.1 L115.3 219.5 L114.8 221.0 L114.3 222.5 L113.8 224.0 L113.2 225.4 L112.7 226.9 L112.1 228.3 L111.6 229.8 L111.1 231.3 L110.6 232.8 L110.0 234.3 L109.4 235.8 L108.9 237.3 L108.4 238.9" stroke="#888" stroke-width="1.0" stroke-dasharray="1 3.7"/>
<path d="M263.7 247.7 L263.5 246.6 L263.3 245.5 L263.0 244.4 L262.8 243.3 L262.6 242.2 L262.4 241.1 L262.3 240.0 L262.1 238.9 L262.0 237.8 L261.8 236.7 L261.6 235.6 L261.4 234.4 L261.2 233.3 L261.1 232.2 L260.9 231.1 L260.7 230.0 L260.5 228.8 L260.2 227.7 L259.9 226.6 L259.8 225.4 L259.6 224.3 L259.5 223.1 L259.3 221.9 L259.1 220.7 L258.9 219.5 L258.7 218.3 L258.5 217.0 L258.2 215.8 L258.0 214.5 L257.7 213.3 L257.4 212.1 L257.1 210.8 L256.7 209.6 L256.1 208.5 L255.3 207.6 L254.7 206.5 L254.2 205.3 L253.8 204.0 L253.5 202.7 L253.1 201.3 L252.8 199.8 L252.5 198.4 L252.1 196.9 L251.8 195.4 L251.4 193.8 L251.0 192.2 L250.6 190.6 L250.2 189.0 L249.7 187.4 L249.2 185.7 L248.7 184.1 L248.1 182.4 L247.5 180.7 L246.8 179.1 L246.1 177.4 L245.4 175.7 L244.7 173.9 L244.0 172.1 L243.2 170.2 L242.5 168.2 L241.8 166.0 L241.1 163.7 L240.3 161.4 L239.4 159.2 L238.5 157.0 L237.5 154.8 L236.4 152.5 L235.3 150.2 L234.3 147.6 L233.2 144.8 L232.0 142.0 L230.7 139.4 L229.3 136.9 L227.8 134.6 L226.2 132.3 L224.5 130.0 L222.8 127.7 L221.0 125.5 L219.0 123.4 L217.1 121.6 L215.0 119.9 L212.8 118.3 L210.6 116.9 L208.4 115.5 L206.1 114.2 L203.8 112.9 L201.4 111.8 L199.0 110.8 L196.6 110.1 L194.1 109.5 L191.6 109.0 L189.1 108.8 L186.6 108.8 L184.2 109.3 L181.8 110.1 L179.5 111.2 L177.2 112.6 L175.1 114.3 L173.0 116.3 L171.1 118.6 L169.3 121.2 L167.5 123.8 L165.9 126.4 L164.3 129.2 L162.8 131.7 L161.3 134.0 L159.9 136.3 L158.5 138.8 L157.2 141.2 L156.0 143.5 L154.8 146.0 L153.8 148.5 L152.9 151.2 L152.1 153.8 L151.2 156.2 L150.2 158.3 L149.2 160.2 L148.2 162.0 L147.2 163.8 L146.3 165.6 L145.4 167.5 L144.6 169.3 L143.8 171.1 L143.0 172.9 L142.2 174.6 L141.4 176.3 L140.7 178.0 L139.9 179.6 L139.2 181.2 L138.5 182.8 L137.8 184.4 L137.1 185.9 L136.5 187.5 L135.7 188.9 L135.0 190.3 L134.2 191.7 L133.5 193.1 L132.9 194.5 L132.4 196.0 L131.9 197.6 L131.4 199.1 L131.0 200.6 L130.5 202.1 L130.2 203.6 L129.8 205.1 L129.5 206.6 L129.1 208.0 L128.8 209.5 L128.4 210.9 L128.0 212.2 L127.3 213.5 L126.2 214.5 L124.9 215.4 L124.5 216.8 L124.1 218.2 L123.6 219.5 L123.2 220.9 L122.8 222.3 L122.4 223.6 L122.0 225.0 L121.6 226.3 L121.1 227.7 L120.6 229.0 L120.1 230.3 L119.7 231.7 L119.2 233.0 L118.8 234.4 L118.4 235.8 L117.9 237.2 L117.5 238.5 L117.1 239.9" stroke="#505050" stroke-width="1.0" stroke-dasharray="6.2 4.3 1 4.3"/>
<path d="M257.7 248.0 L257.4 246.9 L257.2 245.9 L256.9 244.9 L256.7 243.9 L256.5 242.9 L256.2 242.0 L256.0 241.0 L255.9 240.0 L255.7 239.0 L255.6 238.0 L255.4 237.0 L255.2 236.0 L255.0 235.0 L254.8 234.0 L254.6 233.0 L254.4 232.0 L254.1 231.0 L253.9 230.0 L253.6 229.0 L253.4 228.0 L253.3 227.0 L253.1 225.9 L252.9 224.9 L252.7 223.8 L252.5 222.7 L252.3 221.7 L252.1 220.6 L251.8 219.5 L251.6 218.4 L251.3 217.3 L251.0 216.2 L250.8 215.1 L250.5 214.0 L250.0 212.9 L249.5 211.9 L249.0 210.9 L248.7 209.8 L248.4 208.6 L248.1 207.4 L247.7 206.1 L247.4 204.8 L247.2 203.5 L246.8 202.2 L246.5 200.9 L246.1 199.5 L245.7 198.1 L245.3 196.7 L244.9 195.3 L244.5 193.8 L244.1 192.3 L243.6 190.8 L243.1 189.3 L242.6 187.7 L242.1 186.2 L241.5 184.6 L240.9 182.9 L240.3 181.2 L239.7 179.5 L239.1 177.6 L238.6 175.6 L238.0 173.4 L237.5 171.1 L236.9 168.7 L236.2 166.5 L235.4 164.3 L234.5 162.1 L233.6 159.9 L232.7 157.5 L231.7 154.9 L230.8 152.1 L229.8 149.4 L228.6 146.9 L227.2 144.6 L225.8 142.5 L224.3 140.3 L222.8 138.2 L221.2 136.0 L219.5 133.8 L217.7 131.7 L215.9 129.8 L214.0 128.0 L212.0 126.3 L210.0 124.7 L207.9 123.2 L205.7 121.7 L203.5 120.3 L201.3 119.1 L199.0 118.0 L196.7 117.0 L194.3 116.3 L192.0 115.7 L189.6 115.3 L187.2 115.3 L184.9 115.7 L182.6 116.6 L180.4 118.0 L178.4 119.6 L176.4 121.6 L174.5 124.1 L172.8 126.9 L171.3 129.9 L169.8 133.0 L168.5 136.0 L167.2 139.0 L165.9 141.7 L164.5 143.8 L163.1 145.7 L161.7 147.6 L160.4 149.5 L159.2 151.5 L158.1 153.6 L157.1 155.8 L156.2 158.1 L155.3 160.4 L154.4 162.5 L153.6 164.5 L152.7 166.4 L151.8 168.2 L151.0 170.0 L150.2 171.9 L149.4 173.7 L148.7 175.4 L148.0 177.2 L147.3 178.9 L146.7 180.6 L146.1 182.2 L145.4 183.8 L144.8 185.4 L144.3 187.0 L143.7 188.6 L143.1 190.1 L142.6 191.6 L142.1 193.1 L141.5 194.5 L141.0 195.9 L140.4 197.2 L139.9 198.6 L139.5 200.0 L139.1 201.5 L138.7 202.9 L138.3 204.3 L138.0 205.7 L137.6 207.0 L137.3 208.4 L137.1 209.8 L136.8 211.1 L136.4 212.4 L136.1 213.7 L135.8 215.0 L135.5 216.2 L135.1 217.4 L134.4 218.5 L133.6 219.5 L133.3 220.8 L133.0 222.0 L132.6 223.2 L132.3 224.4 L132.0 225.6 L131.7 226.8 L131.4 228.0 L131.1 229.3 L130.8 230.4 L130.4 231.6 L130.0 232.8 L129.7 234.0 L129.3 235.2 L129.0 236.4 L128.7 237.6 L128.4 238.8 L128.1 240.0 L127.9 241.3" stroke="#505050" stroke-width="1.0" stroke-dasharray="6.2 6.6"/>
<path d="M251.6 248.2 L251.4 247.3 L251.1 246.4 L250.9 245.5 L250.6 244.6 L250.3 243.7 L250.0 242.8 L249.8 242.0 L249.7 241.1 L249.5 240.2 L249.4 239.3 L249.2 238.4 L249.0 237.5 L248.8 236.7 L248.6 235.8 L248.3 234.9 L248.1 234.0 L247.8 233.2 L247.6 232.3 L247.3 231.5 L247.1 230.6 L246.9 229.7 L246.8 228.7 L246.6 227.8 L246.4 226.9 L246.2 226.0 L245.9 225.1 L245.7 224.1 L245.4 223.2 L245.1 222.3 L244.8 221.3 L244.7 220.3 L244.5 219.3 L244.2 218.3 L244.0 217.3 L243.7 216.3 L243.4 215.3 L243.1 214.2 L242.9 213.2 L242.6 212.1 L242.3 211.0 L242.1 209.8 L241.8 208.6 L241.5 207.5 L241.2 206.3 L240.8 205.2 L240.5 204.0 L240.1 202.7 L239.7 201.5 L239.3 200.2 L238.9 198.9 L238.5 197.5 L238.1 196.1 L237.7 194.7 L237.3 193.2 L236.8 191.7 L236.4 190.2 L235.9 188.6 L235.5 186.8 L235.0 185.0 L234.6 183.0 L234.3 180.8 L233.9 178.4 L233.5 176.0 L233.0 173.7 L232.3 171.6 L231.6 169.4 L230.8 167.2 L230.0 164.9 L229.2 162.3 L228.4 159.5 L227.5 156.8 L226.4 154.4 L225.2 152.3 L223.8 150.4 L222.5 148.4 L221.0 146.4 L219.5 144.3 L218.0 142.2 L216.4 140.0 L214.7 138.0 L213.0 136.1 L211.2 134.3 L209.3 132.6 L207.3 130.9 L205.3 129.3 L203.3 127.7 L201.2 126.4 L199.0 125.1 L196.8 124.0 L194.6 123.1 L192.3 122.4 L190.0 121.8 L187.8 121.7 L185.6 122.2 L183.4 123.2 L181.4 124.7 L179.5 126.7 L177.7 129.0 L176.1 131.9 L174.6 135.2 L173.3 138.7 L172.1 142.2 L171.0 145.5 L170.0 148.9 L168.9 151.7 L167.7 153.6 L166.3 155.1 L164.9 156.4 L163.6 157.8 L162.4 159.5 L161.3 161.3 L160.3 163.2 L159.4 165.1 L158.5 167.0 L157.7 168.9 L156.9 170.8 L156.1 172.6 L155.4 174.5 L154.7 176.3 L154.1 178.1 L153.4 179.8 L152.8 181.6 L152.3 183.3 L151.7 184.9 L151.2 186.5 L150.7 188.2 L150.2 189.7 L149.7 191.3 L149.3 192.8 L148.8 194.3 L148.4 195.8 L148.0 197.2 L147.7 198.7 L147.3 200.1 L146.9 201.4 L146.6 202.8 L146.3 204.2 L146.0 205.6 L145.8 206.9 L145.5 208.2 L145.3 209.5 L145.0 210.8 L144.7 212.0 L144.5 213.2 L144.3 214.5 L144.0 215.7 L143.8 216.8 L143.5 218.0 L143.3 219.1 L143.1 220.3 L142.9 221.4 L142.7 222.5 L142.4 223.6 L142.1 224.7 L141.9 225.7 L141.6 226.8 L141.4 227.9 L141.2 229.0 L141.1 230.1 L140.9 231.1 L140.7 232.2 L140.4 233.2" stroke="#555" stroke-width="0.95"/>
<path d="M243.1 248.5 L242.9 247.7 L242.7 246.9 L242.5 246.2 L242.3 245.5 L242.1 244.7 L241.8 244.0 L241.6 243.2 L241.5 242.5 L241.4 241.8 L241.2 241.0 L241.1 240.3 L240.9 239.5 L240.7 238.8 L240.6 238.1 L240.3 237.4 L240.1 236.6 L240.0 235.9 L239.8 235.2 L239.6 234.4 L239.5 233.7 L239.4 232.9 L239.2 232.1 L239.1 231.3 L239.0 230.5 L238.8 229.7 L238.6 228.9 L238.4 228.1 L238.2 227.4 L238.0 226.6 L237.8 225.7 L237.7 224.9 L237.5 224.0 L237.3 223.2 L237.1 222.3 L236.9 221.5 L236.6 220.6 L236.4 219.7 L236.2 218.8 L236.0 217.8 L235.7 216.9 L235.5 216.0 L235.3 215.0 L235.0 214.0 L234.8 213.0 L234.5 211.9 L234.3 210.8 L234.0 209.8 L233.7 208.6 L233.4 207.5 L233.1 206.3 L232.8 205.1 L232.5 203.9 L232.1 202.7 L231.8 201.4 L231.4 200.1 L231.0 198.7 L230.7 197.3 L230.3 195.8 L230.0 194.1 L229.7 192.4 L229.4 190.4 L229.1 188.3 L228.7 186.2 L228.3 184.2 L227.8 182.2 L227.2 180.3 L226.6 178.2 L225.9 176.0 L225.3 173.6 L224.7 171.0 L224.0 168.4 L223.1 166.0 L222.1 163.7 L221.1 161.5 L219.9 159.3 L218.8 157.1 L217.4 155.2 L216.1 153.1 L214.7 150.9 L213.2 148.8 L211.7 146.7 L210.1 144.5 L208.4 142.1 L206.7 139.6 L204.9 137.1 L203.0 134.9 L201.0 133.2 L199.0 132.4 L196.9 131.7 L194.9 131.3 L192.8 131.3 L190.7 131.7 L188.7 132.4 L186.8 133.6 L184.9 135.5 L183.2 137.8 L181.6 140.4 L180.2 143.2 L178.8 146.2 L177.6 149.4 L176.5 152.7 L175.5 155.8 L174.6 159.1 L173.8 162.2 L173.0 165.0 L172.1 167.1 L171.0 168.8 L170.0 170.4 L169.0 172.0 L168.2 173.7 L167.4 175.5 L166.6 177.3 L165.9 179.1 L165.3 180.9 L164.7 182.6 L164.1 184.3 L163.5 186.0 L163.0 187.6 L162.5 189.2 L162.0 190.7 L161.5 192.3 L161.1 193.8 L160.6 195.2 L160.3 196.7 L159.9 198.1 L159.5 199.4 L159.1 200.7 L158.7 202.0 L158.4 203.3 L158.0 204.5 L157.7 205.7 L157.4 207.0 L157.2 208.2 L156.9 209.3 L156.7 210.5 L156.4 211.7 L156.2 212.8 L156.0 214.0 L155.9 215.1 L155.6 216.1 L155.4 217.2 L155.2 218.2 L155.0 219.2 L154.8 220.2 L154.6 221.2 L154.4 222.1 L154.2 223.1 L154.0 224.0 L153.8 224.9 L153.6 225.9 L153.5 226.8 L153.3 227.7 L153.1 228.6 L152.9 229.5 L152.8 230.4 L152.6 231.3 L152.5 232.1 L152.3 233.0 L152.2 233.9 L152.2 234.8 L152.0 235.6 L151.9 236.5" stroke="#888" stroke-width="1.0" stroke-dasharray="1 3.7"/>
<path d="M236.2 248.7 L236.1 248.1 L235.9 247.4 L235.8 246.8 L235.6 246.2 L235.4 245.5 L235.2 244.9 L235.0 244.3 L234.9 243.7 L234.8 243.0 L234.7 242.4 L234.6 241.8 L234.4 241.2 L234.2 240.6 L234.1 239.9 L233.9 239.3 L233.7 238.7 L233.6 238.1 L233.5 237.4 L233.4 236.8 L233.3 236.1 L233.2 235.5 L233.2 234.8 L233.1 234.1 L233.0 233.4 L232.9 232.7 L232.7 232.1 L232.6 231.4 L232.4 230.7 L232.3 230.0 L232.1 229.3 L232.0 228.6 L231.9 227.8 L231.7 227.1 L231.6 226.3 L231.4 225.6 L231.2 224.9 L231.0 224.1 L230.8 223.3 L230.6 222.5 L230.4 221.7 L230.2 220.9 L230.0 220.1 L229.7 219.3 L229.6 218.3 L229.4 217.4 L229.3 216.4 L229.1 215.4 L228.9 214.4 L228.6 213.4 L228.4 212.4 L228.2 211.3 L227.9 210.2 L227.6 209.1 L227.3 208.0 L227.0 206.8 L226.7 205.7 L226.4 204.4 L226.1 203.0 L225.9 201.5 L225.6 199.9 L225.4 198.2 L225.2 196.4 L224.9 194.5 L224.5 192.7 L224.1 190.9 L223.6 189.0 L223.1 187.1 L222.7 185.0 L222.2 182.7 L221.7 180.2 L221.1 177.7 L220.4 175.3 L219.7 172.9 L218.8 170.6 L217.9 168.2 L216.9 165.7 L215.8 163.6 L214.7 161.2 L213.4 158.8 L212.2 156.3 L210.8 153.8 L209.4 151.1 L207.9 148.1 L206.4 144.9 L204.7 141.8 L202.9 139.0 L201.0 137.1 L199.0 136.4 L197.0 136.1 L195.0 136.2 L193.1 136.9 L191.2 138.1 L189.3 139.7 L187.6 141.7 L186.0 144.5 L184.6 147.8 L183.4 151.4 L182.2 154.9 L181.2 158.5 L180.3 162.1 L179.5 165.7 L178.8 169.1 L178.1 172.2 L177.5 175.2 L176.9 177.8 L176.3 180.1 L175.6 182.0 L174.9 183.9 L174.3 185.6 L173.7 187.5 L173.2 189.2 L172.7 191.0 L172.3 192.7 L171.8 194.3 L171.4 195.9 L171.0 197.4 L170.7 198.9 L170.3 200.3 L170.0 201.7 L169.6 203.0 L169.3 204.3 L169.0 205.6 L168.8 206.8 L168.5 208.1 L168.3 209.3 L168.0 210.3 L167.7 211.4 L167.4 212.4 L167.2 213.4 L167.0 214.4 L166.7 215.4 L166.5 216.4 L166.4 217.4 L166.2 218.3 L166.1 219.3 L165.9 220.2 L165.8 221.2 L165.8 222.1 L165.6 223.0 L165.4 223.8 L165.2 224.6 L165.1 225.3 L164.9 226.1 L164.7 226.9 L164.6 227.6 L164.4 228.4 L164.3 229.1 L164.1 229.9 L164.0 230.6 L163.9 231.3 L163.8 232.0 L163.7 232.8 L163.5 233.5 L163.4 234.2 L163.3 234.9 L163.2 235.6 L163.2 236.2 L163.1 236.9 L163.1 237.6 L163.0 238.3 L163.0 239.0 L162.9 239.7" stroke="#505050" stroke-width="1.0" stroke-dasharray="6.2 4.3 1 4.3"/>
<path d="M226.4 249.0 L226.3 248.6 L226.2 248.1 L226.1 247.6 L226.0 247.2 L225.9 246.7 L225.7 246.2 L225.6 245.8 L225.5 245.3 L225.4 244.9 L225.3 244.4 L225.2 243.9 L225.1 243.5 L225.0 243.0 L224.8 242.6 L224.7 242.2 L224.5 241.7 L224.5 241.2 L224.5 240.7 L224.5 240.2 L224.5 239.7 L224.5 239.2 L224.5 238.7 L224.5 238.1 L224.4 237.6 L224.4 237.1 L224.3 236.5 L224.3 236.0 L224.2 235.5 L224.1 234.9 L224.0 234.4 L223.9 233.8 L223.9 233.2 L223.7 232.7 L223.6 232.1 L223.5 231.5 L223.4 231.0 L223.2 230.4 L223.1 229.8 L222.9 229.2 L222.8 228.6 L222.6 228.0 L222.4 227.4 L222.3 226.7 L222.2 226.0 L222.2 225.1 L222.1 224.3 L222.0 223.5 L221.9 222.7 L221.8 221.8 L221.7 221.0 L221.5 220.1 L221.4 219.2 L221.2 218.3 L221.0 217.4 L220.8 216.5 L220.5 215.6 L220.3 214.5 L220.2 213.3 L220.1 212.0 L219.9 210.7 L219.8 209.3 L219.6 207.8 L219.3 206.4 L219.1 204.8 L218.9 203.2 L218.6 201.5 L218.3 199.8 L218.0 197.8 L217.7 195.7 L217.4 193.4 L217.0 191.0 L216.6 188.6 L216.1 186.1 L215.6 183.5 L215.0 180.8 L214.3 178.0 L213.6 175.1 L212.7 172.0 L211.9 168.8 L210.9 165.4 L209.8 162.1 L208.6 158.5 L207.4 154.5 L206.0 150.3 L204.4 146.3 L202.7 142.7 L200.9 140.5 L199.0 139.6 L197.1 139.7 L195.2 140.2 L193.3 141.4 L191.5 143.2 L189.9 145.5 L188.3 148.2 L186.9 151.6 L185.7 155.7 L184.7 160.0 L183.9 164.1 L183.1 168.1 L182.4 172.1 L181.9 175.8 L181.4 179.3 L180.9 182.3 L180.4 185.2 L180.0 187.8 L179.6 190.1 L179.1 192.3 L178.7 194.3 L178.4 196.2 L178.0 198.1 L177.7 199.9 L177.4 201.6 L177.2 203.2 L176.9 204.7 L176.7 206.1 L176.4 207.5 L176.2 208.9 L176.0 210.2 L175.8 211.3 L175.5 212.5 L175.4 213.6 L175.2 214.7 L175.1 215.8 L174.9 216.9 L174.8 217.9 L174.6 218.8 L174.4 219.6 L174.2 220.4 L174.0 221.3 L173.9 222.1 L173.7 222.9 L173.6 223.7 L173.5 224.5 L173.4 225.3 L173.4 226.1 L173.3 226.9 L173.3 227.6 L173.3 228.4 L173.2 229.1 L173.0 229.7 L172.9 230.3 L172.7 230.9 L172.6 231.5 L172.4 232.1 L172.3 232.7 L172.2 233.2 L172.1 233.8 L172.0 234.4 L171.9 235.0 L171.8 235.5 L171.7 236.1 L171.7 236.7 L171.6 237.2 L171.5 237.8 L171.5 238.3 L171.5 238.9 L171.5 239.4 L171.5 240.0 L171.5 240.5 L171.5 241.1 L171.5 241.6 L171.5 242.1" stroke="#505050" stroke-width="1.0" stroke-dasharray="6.2 6.6"/>
<path d="M218.9 249.3 L218.8 249.0 L218.8 248.6 L218.7 248.3 L218.6 247.9 L218.6 247.6 L218.5 247.3 L218.4 246.9 L218.3 246.6 L218.2 246.3 L218.2 245.9 L218.1 245.6 L217.9 245.3 L217.8 245.0 L217.7 244.6 L217.6 244.3 L217.5 244.0 L217.5 243.6 L217.6 243.2 L217.7 242.8 L217.7 242.4 L217.8 242.0 L217.8 241.6 L217.8 241.2 L217.9 240.8 L217.9 240.4 L217.9 240.0 L217.9 239.5 L217.9 239.1 L217.8 238.7 L217.8 238.3 L217.8 237.8 L217.7 237.4 L217.6 237.0 L217.6 236.5 L217.5 236.1 L217.4 235.6 L217.3 235.2 L217.2 234.7 L217.1 234.3 L216.9 233.9 L216.8 233.4 L216.6 233.0 L216.5 232.5 L216.6 231.8 L216.6 231.1 L216.6 230.4 L216.6 229.7 L216.6 229.0 L216.6 228.3 L216.5 227.6 L216.5 226.8 L216.4 226.1 L216.2 225.4 L216.1 224.6 L216.0 223.9 L215.8 223.1 L215.7 222.3 L215.6 221.2 L215.6 220.0 L215.5 218.9 L215.4 217.8 L215.3 216.6 L215.1 215.5 L215.0 214.1 L214.9 212.6 L214.7 211.1 L214.5 209.5 L214.4 207.6 L214.2 205.7 L214.1 203.6 L213.9 201.3 L213.7 198.7 L213.4 196.1 L213.1 193.4 L212.7 190.5 L212.3 187.4 L211.8 184.2 L211.2 180.7 L210.6 177.0 L209.8 173.2 L208.9 169.3 L207.9 165.1 L206.8 160.4 L205.6 155.5 L204.2 150.8 L202.6 146.6 L200.8 144.0 L199.0 143.3 L197.1 143.5 L195.3 144.2 L193.5 145.7 L191.9 147.9 L190.3 150.5 L188.9 153.5 L187.6 157.3 L186.6 161.6 L185.7 166.1 L184.9 170.3 L184.3 174.3 L183.7 178.0 L183.2 181.6 L182.8 184.8 L182.3 187.8 L182.0 190.6 L181.6 193.2 L181.3 195.6 L181.0 197.9 L180.8 200.0 L180.6 202.0 L180.4 203.9 L180.2 205.7 L180.0 207.3 L179.8 208.9 L179.7 210.4 L179.5 211.7 L179.3 213.0 L179.2 214.3 L179.1 215.5 L178.9 216.6 L178.8 217.6 L178.6 218.6 L178.5 219.6 L178.5 220.7 L178.4 221.7 L178.4 222.6 L178.2 223.3 L178.0 224.1 L177.8 224.8 L177.7 225.5 L177.6 226.2 L177.5 226.9 L177.4 227.7 L177.4 228.4 L177.3 229.1 L177.3 229.8 L177.3 230.5 L177.3 231.1 L177.3 231.8 L177.3 232.4 L177.1 232.9 L177.0 233.4 L176.8 233.9 L176.7 234.4 L176.6 234.9 L176.5 235.4 L176.4 235.9 L176.3 236.4 L176.2 236.8 L176.1 237.3 L176.1 237.8 L176.0 238.3 L176.0 238.8 L176.0 239.3 L175.9 239.7 L175.9 240.2 L175.9 240.7 L175.9 241.2 L176.0 241.6 L176.0 242.1 L176.0 242.5 L176.1 243.0 L176.1 243.4" stroke="#555" stroke-width="0.95"/>
</g>
<rect x="35.5" y="5.9" width="285.6" height="209.4" fill="none" stroke="#555" stroke-width="1.1"/>
<text x="35.5" y="229" font-size="10.9" text-anchor="middle" >5.5</text>
<line x1="106.9" y1="215.3" x2="106.9" y2="212.3" stroke="#555" stroke-width="1.1"/>
<line x1="106.9" y1="5.9" x2="106.9" y2="8.9" stroke="#555" stroke-width="1.1"/>
<text x="106.9" y="229" font-size="10.9" text-anchor="middle" >6</text>
<line x1="178.3" y1="215.3" x2="178.3" y2="212.3" stroke="#555" stroke-width="1.1"/>
<line x1="178.3" y1="5.9" x2="178.3" y2="8.9" stroke="#555" stroke-width="1.1"/>
<text x="178.3" y="229" font-size="10.9" text-anchor="middle" >6.5</text>
<line x1="249.7" y1="215.3" x2="249.7" y2="212.3" stroke="#555" stroke-width="1.1"/>
<line x1="249.7" y1="5.9" x2="249.7" y2="8.9" stroke="#555" stroke-width="1.1"/>
<text x="249.7" y="229" font-size="10.9" text-anchor="middle" >7</text>
<text x="321.1" y="229" font-size="10.9" text-anchor="middle" >7.5</text>
<text x="32.2" y="219.6" font-size="10.9" text-anchor="end" >27</text>
<line x1="35.5" y1="173.42" x2="38.5" y2="173.42" stroke="#555" stroke-width="1.1"/>
<line x1="321.1" y1="173.42" x2="318.1" y2="173.42" stroke="#555" stroke-width="1.1"/>
<text x="32.2" y="177.72" font-size="10.9" text-anchor="end" >28</text>
<line x1="35.5" y1="131.54" x2="38.5" y2="131.54" stroke="#555" stroke-width="1.1"/>
<line x1="321.1" y1="131.54" x2="318.1" y2="131.54" stroke="#555" stroke-width="1.1"/>
<text x="32.2" y="135.84" font-size="10.9" text-anchor="end" >29</text>
<line x1="35.5" y1="89.66" x2="38.5" y2="89.66" stroke="#555" stroke-width="1.1"/>
<line x1="321.1" y1="89.66" x2="318.1" y2="89.66" stroke="#555" stroke-width="1.1"/>
<text x="32.2" y="93.96" font-size="10.9" text-anchor="end" >30</text>
<line x1="35.5" y1="47.78" x2="38.5" y2="47.78" stroke="#555" stroke-width="1.1"/>
<line x1="321.1" y1="47.78" x2="318.1" y2="47.78" stroke="#555" stroke-width="1.1"/>
<text x="32.2" y="52.08" font-size="10.9" text-anchor="end" >31</text>
<text x="32.2" y="10.2" font-size="10.9" text-anchor="end" >32</text>
<text x="178.8" y="242" font-size="11.1" text-anchor="middle" >log T (K)</text>
<text transform="translate(13.3,110.6) rotate(-90)" font-size="10.9" text-anchor="middle">log EM (cm<tspan dy="-5.2" font-size="7.8">&#8722;5</tspan><tspan dy="5.2">)</tspan></text>
<text x="46.7" y="25.8" font-size="11.8" text-anchor="start" >Random</text>
<clipPath id="clip252"><rect x="39.6" y="252.9" width="287.5" height="206.4"/></clipPath>
<g clip-path="url(#clip252)" fill="none">
<path d="M382.5 428.6 L380.1 425.9 L377.7 423.2 L375.4 420.6 L373.0 418.0 L370.7 415.4 L368.5 412.8 L366.2 410.3 L363.9 407.8 L361.8 405.3 L359.6 402.9 L357.3 400.5 L355.2 398.0 L353.1 395.6 L350.9 393.2 L348.7 390.9 L346.6 388.5 L344.5 386.1 L342.4 383.8 L340.3 381.4 L338.2 379.0 L336.1 376.7 L334.0 374.4 L331.9 372.0 L329.7 369.7 L327.6 367.4 L325.5 365.0 L323.4 362.6 L321.3 360.3 L319.2 357.9 L317.0 355.5 L314.9 353.1 L312.8 350.6 L310.7 348.0 L308.7 345.4 L306.7 342.7 L304.6 339.9 L302.6 337.1 L300.5 334.2 L298.4 331.2 L296.3 328.2 L294.1 325.2 L292.0 322.1 L289.7 318.9 L287.4 315.8 L285.1 312.5 L282.7 309.3 L280.3 305.8 L277.9 302.3 L275.3 298.8 L272.7 295.3 L269.9 291.9 L267.1 288.6 L264.1 285.4 L261.0 282.3 L257.8 279.4 L254.5 276.6 L251.1 273.9 L247.6 271.2 L244.0 268.8 L240.3 266.7 L236.4 265.0 L232.6 263.4 L228.6 261.8 L224.7 260.3 L220.7 258.8 L216.6 257.6 L212.5 256.7 L208.3 256.2 L204.2 256.3 L200.0 256.8 L195.9 257.7 L191.8 258.9 L187.7 260.6 L183.8 262.8 L179.9 265.2 L176.1 267.7 L172.4 270.2 L168.7 272.6 L165.1 274.8 L161.6 277.1 L158.1 279.3 L154.6 281.5 L151.2 283.8 L147.9 286.1 L144.6 288.4 L141.4 290.7 L138.2 292.9 L135.0 294.9 L131.7 296.7 L128.4 298.3 L125.1 299.8 L121.8 301.5 L118.6 303.1 L115.3 304.8 L112.1 306.5 L109.0 308.3 L105.8 310.2 L102.7 312.0 L99.7 314.0 L96.7 316.0 L93.7 318.1 L90.9 320.3 L88.0 322.6 L85.3 324.9 L82.6 327.3 L80.0 329.8 L77.5 332.4 L75.1 335.1 L72.7 337.8 L70.4 340.5 L68.2 343.3 L65.9 346.1 L63.6 348.7 L61.0 351.1 L58.4 353.4 L56.0 355.9 L53.9 358.8 L52.1 361.8 L50.3 364.9 L48.7 368.0 L47.1 371.2 L45.6 374.4 L44.3 377.7 L43.2 381.0 L42.1 384.4 L41.1 387.8 L40.2 391.2 L39.2 394.5 L38.2 397.8 L37.3 401.0 L36.3 404.3 L35.4 407.5 L34.4 410.6 L33.5 413.8 L32.6 416.9 L31.6 420.0 L30.7 423.1 L29.8 426.2 L28.9 429.3 L27.9 432.4 L27.0 435.4 L26.1 438.5 L25.3 441.6 L24.3 444.6 L23.4 447.7 L22.5 450.8 L21.7 453.8 L20.7 456.9 L19.8 460.0 L19.0 463.1 L18.0 466.2 L17.1 469.3 L16.2 472.4 L15.2 475.6" stroke="#888" stroke-width="1.0" stroke-dasharray="1 3.7"/>
<path d="M375.8 431.0 L373.5 428.4 L371.2 425.8 L368.9 423.3 L366.6 420.8 L364.4 418.4 L362.2 415.9 L359.9 413.5 L357.8 411.1 L355.6 408.7 L353.5 406.4 L351.3 404.1 L349.3 401.7 L347.2 399.4 L345.1 397.1 L343.0 394.9 L341.0 392.6 L338.9 390.3 L336.8 388.1 L334.8 385.9 L332.7 383.6 L330.6 381.5 L328.5 379.3 L326.4 377.1 L324.3 374.9 L322.3 372.7 L320.4 370.4 L318.4 368.0 L316.4 365.7 L314.4 363.4 L312.3 361.1 L310.3 358.8 L308.3 356.4 L306.3 354.0 L304.3 351.5 L302.3 348.9 L300.3 346.3 L298.3 343.6 L296.3 340.9 L294.3 338.1 L292.2 335.2 L290.2 332.3 L288.1 329.4 L285.9 326.4 L283.7 323.3 L281.5 320.2 L279.3 317.0 L277.0 313.7 L274.6 310.3 L272.2 306.9 L269.7 303.6 L267.0 300.4 L264.2 297.3 L261.4 294.3 L258.4 291.3 L255.4 288.4 L252.2 285.6 L249.0 282.8 L245.7 280.1 L242.3 277.6 L238.7 275.3 L235.1 273.2 L231.4 271.4 L227.7 269.8 L223.8 268.2 L220.0 266.8 L216.0 265.7 L212.1 264.8 L208.1 264.2 L204.0 264.2 L200.0 264.5 L196.0 265.1 L192.0 266.0 L188.1 267.4 L184.2 269.3 L180.4 271.4 L176.7 273.7 L173.1 276.0 L169.5 278.3 L166.0 280.4 L162.5 282.5 L159.1 284.7 L155.8 286.9 L152.5 289.2 L149.3 291.5 L146.1 293.9 L143.1 296.4 L140.0 298.9 L137.0 301.1 L133.9 303.0 L130.7 304.6 L127.5 306.1 L124.3 307.6 L121.1 309.2 L118.0 310.8 L114.8 312.4 L111.7 314.0 L108.7 315.8 L105.6 317.5 L102.7 319.4 L99.7 321.3 L96.8 323.3 L94.0 325.4 L91.2 327.5 L88.6 329.8 L85.9 332.1 L83.4 334.5 L80.9 337.0 L78.5 339.5 L76.1 342.0 L73.7 344.5 L71.4 347.1 L69.1 349.6 L66.8 352.1 L64.3 354.4 L61.7 356.7 L59.4 359.2 L57.3 361.9 L55.4 364.8 L53.5 367.7 L51.8 370.6 L50.1 373.6 L48.6 376.7 L47.2 379.8 L45.9 383.1 L44.8 386.4 L43.8 389.7 L42.9 393.0 L41.9 396.2 L40.8 399.4 L39.8 402.5 L38.7 405.6 L37.7 408.7 L36.7 411.8 L35.6 414.8 L34.7 417.9 L33.9 421.1 L33.2 424.2 L32.5 427.3 L31.8 430.4 L31.1 433.5 L30.3 436.6 L29.6 439.6 L29.0 442.7 L28.2 445.7 L27.5 448.8 L26.8 451.8 L26.1 454.9 L25.4 457.9 L24.7 460.9 L24.0 464.0 L23.3 467.0 L22.6 470.1 L21.9 473.1 L21.1 476.2" stroke="#505050" stroke-width="1.0" stroke-dasharray="6.2 4.3 1 4.3"/>
<path d="M364.5 435.1 L362.2 432.7 L360.1 430.3 L357.9 428.0 L355.7 425.7 L353.6 423.4 L351.5 421.1 L349.4 418.9 L347.3 416.7 L345.3 414.5 L343.3 412.3 L341.2 410.1 L339.2 408.0 L337.2 405.9 L335.3 403.8 L333.3 401.7 L331.3 399.6 L329.4 397.5 L327.5 395.4 L325.5 393.4 L323.5 391.4 L321.3 389.5 L319.2 387.6 L317.1 385.8 L315.1 383.8 L313.3 381.7 L311.6 379.4 L309.9 377.2 L308.1 375.0 L306.2 372.8 L304.4 370.6 L302.5 368.4 L300.6 366.2 L298.7 364.0 L296.8 361.7 L294.9 359.5 L293.0 357.1 L291.1 354.7 L289.2 352.3 L287.3 349.7 L285.4 347.1 L283.5 344.5 L281.5 341.7 L279.5 338.9 L277.5 336.0 L275.5 333.1 L273.5 330.0 L271.4 326.9 L269.2 323.8 L266.9 320.6 L264.6 317.5 L262.2 314.4 L259.7 311.2 L257.2 308.0 L254.5 304.8 L251.8 301.6 L249.0 298.4 L246.1 295.2 L243.1 292.0 L240.1 289.0 L236.8 286.0 L233.5 283.3 L230.1 280.9 L226.5 278.9 L222.9 277.2 L219.2 275.6 L215.4 274.3 L211.6 273.3 L207.8 272.7 L203.9 272.5 L200.0 272.6 L196.1 272.9 L192.3 273.5 L188.5 274.7 L184.7 276.2 L181.0 278.0 L177.4 280.0 L173.9 282.2 L170.4 284.3 L167.0 286.4 L163.6 288.4 L160.2 290.3 L157.0 292.5 L153.8 294.8 L150.7 297.3 L147.7 299.8 L144.8 302.5 L142.0 305.2 L139.2 307.7 L136.2 309.8 L133.2 311.4 L130.1 312.8 L126.9 314.1 L123.8 315.6 L120.8 317.1 L117.7 318.6 L114.7 320.1 L111.7 321.7 L108.7 323.4 L105.8 325.1 L103.0 326.9 L100.1 328.8 L97.4 330.8 L94.7 332.8 L92.0 335.0 L89.5 337.2 L87.0 339.5 L84.5 341.8 L82.1 344.1 L79.6 346.3 L77.2 348.6 L74.8 351.0 L72.5 353.4 L70.1 355.8 L67.7 358.0 L65.3 360.3 L63.0 362.7 L60.9 365.3 L58.8 367.9 L56.9 370.6 L55.1 373.4 L53.3 376.2 L51.7 379.1 L50.2 382.1 L48.9 385.2 L47.8 388.4 L46.7 391.6 L45.7 394.8 L44.7 397.9 L43.6 401.0 L42.4 404.0 L41.3 407.0 L40.2 410.0 L39.0 413.0 L37.9 415.9 L37.0 419.0 L36.4 422.2 L35.9 425.3 L35.4 428.5 L34.9 431.6 L34.4 434.7 L33.8 437.8 L33.3 440.8 L32.9 443.9 L32.3 446.9 L31.8 449.9 L31.3 452.9 L30.9 456.0 L30.4 458.9 L29.8 461.9 L29.4 464.9 L28.9 467.9 L28.4 470.9 L27.9 473.9 L27.4 476.9" stroke="#505050" stroke-width="1.0" stroke-dasharray="6.2 6.6"/>
<path d="M380.8 463.1 L378.1 460.4 L375.6 457.7 L373.1 455.0 L370.6 452.5 L368.3 449.9 L365.9 447.4 L363.5 445.0 L361.3 442.6 L359.1 440.2 L356.8 437.9 L354.6 435.7 L352.5 433.4 L350.4 431.1 L348.3 429.0 L346.2 426.8 L344.2 424.7 L342.2 422.5 L340.2 420.5 L338.2 418.4 L336.3 416.3 L334.3 414.3 L332.4 412.3 L330.5 410.3 L328.6 408.3 L326.6 406.3 L324.8 404.3 L322.9 402.4 L321.1 400.4 L319.2 398.5 L317.2 396.7 L315.0 395.0 L312.9 393.3 L310.8 391.6 L308.9 389.9 L307.2 387.8 L305.6 385.6 L304.1 383.4 L302.4 381.3 L300.7 379.2 L298.9 377.1 L297.2 375.0 L295.4 372.9 L293.6 370.8 L291.7 368.7 L289.9 366.6 L288.0 364.5 L286.2 362.3 L284.4 360.0 L282.5 357.6 L280.7 355.2 L278.9 352.7 L277.0 350.2 L275.2 347.5 L273.3 344.7 L271.4 341.9 L269.5 338.9 L267.5 335.9 L265.5 333.0 L263.3 330.0 L261.1 327.1 L258.8 324.1 L256.5 321.1 L254.1 317.9 L251.7 314.7 L249.2 311.4 L246.6 308.1 L243.9 304.8 L241.2 301.4 L238.3 298.1 L235.3 294.8 L232.2 291.7 L229.0 289.0 L225.6 286.8 L222.1 285.0 L218.5 283.5 L214.9 282.2 L211.2 281.1 L207.5 280.5 L203.8 280.1 L200.0 280.0 L196.2 280.0 L192.5 280.4 L188.8 281.3 L185.1 282.5 L181.5 284.1 L178.0 285.8 L174.6 287.8 L171.2 289.9 L167.8 291.9 L164.5 293.7 L161.2 295.5 L158.1 297.7 L155.0 300.1 L152.0 302.6 L149.1 305.2 L146.4 308.0 L143.8 311.0 L141.1 313.8 L138.3 315.9 L135.4 317.6 L132.4 318.9 L129.3 320.1 L126.3 321.4 L123.3 322.8 L120.4 324.2 L117.4 325.6 L114.5 327.1 L111.6 328.7 L108.7 330.4 L105.9 332.1 L103.2 333.8 L100.4 335.7 L97.8 337.6 L95.2 339.7 L92.8 341.9 L90.3 344.0 L87.9 346.2 L85.4 348.3 L82.9 350.3 L80.4 352.4 L78.0 354.6 L75.6 356.8 L73.2 359.1 L70.9 361.3 L68.6 363.6 L66.3 365.9 L64.1 368.3 L62.0 370.8 L60.0 373.3 L58.0 375.9 L56.2 378.6 L54.5 381.3 L53.0 384.2 L51.6 387.2 L50.4 390.3 L49.4 393.4 L48.3 396.5 L47.3 399.6 L46.1 402.5 L44.9 405.4 L43.6 408.3 L42.4 411.2 L41.2 414.1 L40.0 417.0 L39.1 420.0 L38.6 423.2 L38.3 426.4 L38.0 429.6 L37.7 432.7 L37.4 435.8 L37.1 438.9 L36.7 441.9 L36.4 445.0 L36.1 448.0 L35.8 451.0 L35.5 454.0 L35.2 457.0 L34.9 459.9 L34.5 462.8 L34.2 465.8 L34.0 468.7 L33.7 471.6 L33.4 474.5 L33.1 477.5 L32.8 480.4 L32.5 483.3" stroke="#555" stroke-width="0.95"/>
<path d="M359.2 466.9 L357.5 464.4 L355.8 461.9 L354.1 459.4 L352.4 457.0 L350.9 454.6 L349.3 452.2 L347.6 449.9 L346.2 447.5 L344.7 445.2 L343.2 442.9 L341.7 440.6 L340.3 438.3 L338.9 436.0 L337.4 433.8 L336.0 431.6 L334.6 429.3 L333.2 427.1 L331.8 424.9 L330.4 422.7 L329.1 420.5 L327.7 418.3 L326.3 416.1 L324.9 413.9 L323.5 411.7 L322.0 409.6 L320.6 407.4 L319.1 405.3 L317.6 403.2 L315.9 401.1 L314.0 399.4 L311.7 397.9 L309.5 396.4 L307.4 394.9 L305.4 393.2 L303.6 391.4 L302.0 389.4 L300.4 387.4 L298.7 385.4 L297.0 383.4 L295.3 381.4 L293.6 379.4 L291.9 377.4 L290.2 375.2 L288.6 373.1 L287.0 370.8 L285.3 368.5 L283.7 366.2 L282.0 363.7 L280.4 361.2 L278.7 358.6 L277.0 356.1 L275.1 353.7 L273.3 351.2 L271.4 348.6 L269.5 346.0 L267.6 343.2 L265.6 340.5 L263.6 337.7 L261.4 334.9 L259.3 332.2 L257.0 329.4 L254.7 326.6 L252.3 323.9 L249.8 321.2 L247.3 318.6 L244.6 316.0 L242.0 313.3 L239.2 310.6 L236.4 307.9 L233.5 305.2 L230.5 302.7 L227.3 300.4 L224.1 298.5 L220.8 296.9 L217.5 295.5 L214.0 294.1 L210.6 293.1 L207.1 292.5 L203.5 292.2 L200.0 292.0 L196.5 292.1 L192.9 292.4 L189.4 293.2 L186.0 294.3 L182.6 295.7 L179.2 297.3 L175.9 299.1 L172.7 301.0 L169.6 302.8 L166.4 304.5 L163.3 306.2 L160.3 308.2 L157.4 310.3 L154.5 312.5 L151.7 314.8 L149.1 317.3 L146.5 319.9 L143.9 322.3 L141.3 324.4 L138.6 326.2 L135.8 327.8 L133.0 329.2 L130.2 330.6 L127.4 332.0 L124.6 333.3 L121.8 334.6 L119.0 336.0 L116.2 337.5 L113.5 339.0 L110.9 340.6 L108.2 342.2 L105.6 343.9 L103.0 345.7 L100.5 347.5 L98.0 349.4 L95.7 351.4 L93.4 353.6 L91.3 355.8 L86.0 355.8 L84.6 357.2 L82.7 359.1 L80.5 361.3 L78.6 363.2 L77.0 364.8 L75.6 366.3 L74.2 367.8 L72.5 369.4 L70.4 371.1 L68.1 372.8 L65.8 374.7 L63.6 376.9 L61.6 379.7 L59.6 383.0 L57.8 386.2 L56.2 389.1 L55.0 391.3 L54.1 393.2 L53.3 395.0 L52.5 397.0 L51.6 399.1 L50.6 401.2 L49.7 403.6 L48.8 406.3 L47.8 409.6 L46.9 413.2 L45.9 417.1 L45.1 421.1 L44.4 425.3 L43.7 429.7 L43.2 434.1 L42.7 438.3 L42.3 442.3 L42.0 446.2 L41.7 449.9 L41.5 453.0 L41.3 455.7 L41.2 457.9 L41.1 459.7 L41.0 461.0" stroke="#888" stroke-width="1.0" stroke-dasharray="1 3.7"/>
<path d="M348.7 468.8 L347.4 466.3 L346.1 463.9 L344.8 461.6 L343.6 459.2 L342.4 456.8 L341.2 454.5 L339.9 452.2 L338.8 449.9 L337.7 447.6 L336.6 445.3 L335.4 443.0 L334.4 440.7 L333.3 438.4 L332.2 436.2 L331.0 433.9 L330.0 431.6 L328.9 429.3 L327.8 427.1 L326.7 424.8 L325.6 422.5 L324.4 420.2 L323.3 418.0 L322.1 415.7 L321.0 413.4 L319.8 411.1 L318.5 408.9 L317.2 406.7 L315.8 404.5 L314.3 402.4 L312.4 400.6 L310.2 399.2 L307.8 397.9 L305.7 396.4 L303.7 394.8 L301.9 393.1 L300.3 391.2 L298.6 389.3 L296.9 387.4 L295.2 385.5 L293.5 383.5 L291.9 381.6 L290.2 379.5 L288.6 377.4 L287.1 375.2 L285.5 372.8 L284.0 370.5 L282.5 368.0 L280.9 365.5 L279.4 362.9 L277.8 360.3 L276.0 357.8 L274.2 355.4 L272.4 353.0 L270.5 350.5 L268.6 348.0 L266.6 345.3 L264.7 342.7 L262.6 340.0 L260.5 337.3 L258.4 334.7 L256.1 332.0 L253.8 329.3 L251.4 326.8 L248.9 324.4 L246.3 322.1 L243.7 319.8 L241.0 317.4 L238.3 315.0 L235.4 312.6 L232.6 310.3 L229.6 308.0 L226.6 306.0 L223.4 304.2 L220.2 302.7 L217.0 301.3 L213.6 300.0 L210.3 299.0 L206.9 298.3 L203.4 298.0 L200.0 297.9 L196.6 298.0 L193.1 298.2 L189.7 298.9 L186.4 300.0 L183.1 301.4 L179.8 302.9 L176.6 304.6 L173.5 306.4 L170.4 308.1 L167.3 309.7 L164.3 311.4 L161.4 313.3 L158.5 315.3 L155.7 317.4 L153.0 319.5 L150.3 321.8 L147.8 324.2 L145.2 326.5 L142.7 328.6 L140.1 330.4 L137.5 332.1 L134.8 333.6 L132.1 335.0 L129.4 336.4 L126.6 337.7 L123.9 339.0 L121.2 340.3 L118.5 341.7 L115.9 343.2 L113.3 344.7 L110.7 346.3 L108.1 348.0 L105.6 349.6 L103.1 351.3 L100.6 353.0 L98.3 355.0 L96.1 357.2 L93.4 358.3 L92.0 359.5 L90.0 361.1 L87.8 362.9 L86.0 364.4 L84.7 365.4 L83.7 366.2 L82.8 367.0 L81.7 368.1 L80.3 369.7 L78.8 371.6 L77.4 373.6 L76.2 375.5 L75.4 377.2 L74.8 378.7 L74.3 380.2 L73.7 381.7 L72.9 383.0 L71.9 384.3 L71.0 385.6 L70.0 387.0 L69.0 388.6 L68.1 390.2 L67.1 392.0 L66.0 394.0 L64.8 396.3 L63.5 398.9 L62.3 401.5 L61.1 403.9 L60.1 406.0 L59.2 408.0 L58.4 409.9 L57.5 412.0 L56.6 414.0 L55.7 416.0 L54.7 418.2 L53.7 421.1 L52.6 424.9 L51.3 429.4 L50.1 434.0 L48.8 438.3 L47.5 442.3 L46.1 446.2 L44.8 449.9 L43.9 453.0 L43.4 455.7 L43.1 457.9 L43.1 459.7 L43.0 461.0" stroke="#505050" stroke-width="1.0" stroke-dasharray="6.2 4.3 1 4.3"/>
<path d="M333.9 471.4 L333.2 469.1 L332.5 466.8 L331.8 464.6 L331.1 462.3 L330.4 460.0 L329.8 457.8 L329.1 455.5 L328.5 453.3 L327.8 451.0 L327.2 448.7 L326.6 446.4 L326.0 444.1 L325.4 441.8 L324.7 439.5 L324.0 437.2 L323.4 434.8 L322.7 432.5 L322.0 430.1 L321.3 427.7 L320.6 425.4 L319.9 423.0 L319.1 420.6 L318.3 418.2 L317.5 415.8 L316.6 413.4 L315.7 411.0 L314.6 408.7 L313.4 406.4 L312.1 404.2 L310.3 402.5 L307.9 401.2 L305.5 400.0 L303.3 398.6 L301.4 397.1 L299.5 395.5 L297.8 393.8 L296.1 392.0 L294.4 390.2 L292.7 388.4 L291.0 386.5 L289.4 384.6 L287.9 382.6 L286.4 380.4 L284.9 378.1 L283.5 375.7 L282.1 373.2 L280.7 370.7 L279.3 368.1 L277.9 365.3 L276.4 362.7 L274.7 360.2 L273.0 357.8 L271.1 355.5 L269.2 353.2 L267.3 350.8 L265.3 348.3 L263.4 345.7 L261.3 343.2 L259.2 340.7 L257.1 338.2 L254.9 335.6 L252.6 333.2 L250.2 330.9 L247.6 328.8 L245.0 327.0 L242.3 325.2 L239.6 323.3 L236.9 321.3 L234.1 319.3 L231.3 317.4 L228.4 315.5 L225.5 313.8 L222.4 312.3 L219.4 310.9 L216.2 309.5 L213.1 308.2 L209.8 307.2 L206.6 306.6 L203.3 306.3 L200.0 306.2 L196.7 306.2 L193.4 306.5 L190.2 307.1 L186.9 308.1 L183.8 309.4 L180.6 310.8 L177.6 312.4 L174.6 314.0 L171.6 315.6 L168.6 317.1 L165.7 318.7 L162.9 320.5 L160.1 322.3 L157.4 324.2 L154.8 326.2 L152.2 328.2 L149.6 330.3 L147.2 332.4 L144.7 334.4 L142.3 336.4 L139.8 338.2 L137.3 339.9 L134.8 341.3 L132.2 342.7 L129.5 343.9 L126.9 345.1 L124.3 346.4 L121.7 347.7 L119.2 349.1 L116.6 350.6 L114.1 352.1 L111.7 353.6 L109.2 355.1 L106.7 356.6 L105.1 358.3 L103.9 359.1 L102.3 360.3 L100.5 361.5 L98.9 362.6 L97.7 363.4 L96.7 364.1 L95.7 364.8 L94.6 365.7 L93.4 366.9 L92.1 368.2 L90.9 369.7 L89.7 371.2 L88.7 372.7 L87.8 374.3 L86.9 376.0 L86.0 378.0 L85.1 380.4 L84.2 383.1 L83.3 385.7 L82.3 388.0 L81.3 389.8 L80.2 391.2 L79.1 392.6 L78.0 394.0 L76.9 395.3 L75.7 396.5 L74.6 398.0 L73.4 400.0 L72.2 402.8 L71.0 406.2 L69.7 409.8 L68.5 413.7 L67.2 418.0 L65.9 422.6 L64.7 427.2 L63.6 430.9 L62.8 433.6 L62.1 435.6 L61.5 437.3 L60.7 439.0 L59.7 440.7 L58.6 442.2 L57.4 443.8 L56.2 445.7 L54.9 448.0 L53.5 450.7 L52.3 453.3 L51.3 455.5 L50.7 457.3 L50.3 458.9 L50.1 460.1 L50.0 461.0" stroke="#505050" stroke-width="1.0" stroke-dasharray="6.2 6.6"/>
<path d="M320.1 490.8 L319.9 488.7 L319.8 486.6 L319.8 484.5 L319.7 482.4 L319.5 480.3 L319.4 478.2 L319.2 476.1 L319.1 474.0 L319.0 471.9 L318.9 469.7 L318.7 467.6 L318.6 465.4 L318.5 463.2 L318.4 461.1 L318.2 458.9 L318.1 456.6 L317.9 454.4 L317.8 452.1 L317.7 449.8 L317.6 447.5 L317.4 445.1 L317.3 442.8 L317.1 440.4 L316.8 438.0 L316.6 435.6 L316.3 433.2 L316.0 430.7 L315.7 428.2 L315.3 425.7 L314.9 423.2 L314.5 420.7 L314.0 418.1 L313.4 415.6 L312.8 413.1 L311.9 410.7 L311.0 408.3 L309.8 406.1 L308.1 404.3 L305.6 403.2 L303.1 402.2 L301.0 400.8 L299.0 399.4 L297.1 397.9 L295.3 396.3 L293.5 394.7 L291.8 393.0 L290.2 391.3 L288.5 389.5 L287.0 387.6 L285.5 385.6 L284.1 383.4 L282.8 381.1 L281.5 378.6 L280.3 376.0 L279.0 373.3 L277.7 370.6 L276.5 367.8 L275.0 365.0 L273.4 362.5 L271.7 360.2 L269.8 358.0 L267.9 355.8 L265.9 353.6 L264.0 351.2 L262.0 348.8 L260.0 346.4 L258.0 344.0 L255.8 341.7 L253.6 339.3 L251.3 337.0 L248.9 335.0 L246.4 333.3 L243.7 331.9 L241.0 330.5 L238.3 329.1 L235.6 327.6 L232.8 326.1 L230.1 324.6 L227.2 323.1 L224.4 321.7 L221.4 320.3 L218.5 319.0 L215.5 317.7 L212.5 316.4 L209.4 315.4 L206.3 314.8 L203.2 314.5 L200.0 314.4 L196.8 314.5 L193.7 314.7 L190.6 315.2 L187.5 316.1 L184.5 317.3 L181.5 318.7 L178.5 320.1 L175.6 321.6 L172.8 323.1 L169.9 324.5 L167.2 326.1 L164.4 327.7 L161.8 329.3 L159.1 331.0 L156.5 332.8 L154.0 334.6 L151.5 336.4 L149.1 338.2 L146.7 340.2 L144.4 342.3 L142.2 344.3 L139.8 346.1 L137.4 347.6 L135.0 348.9 L132.4 350.1 L129.9 351.3 L127.4 352.5 L124.9 353.7 L122.4 355.1 L120.0 356.5 L117.6 357.9 L115.2 359.3 L112.8 360.7 L110.3 362.0 L107.8 363.3 L105.6 365.1 L103.7 367.3 L102.2 369.8 L100.9 372.7 L100.0 375.8 L99.2 379.0 L98.5 382.3 L97.9 385.5 L97.2 388.6 L96.7 391.7 L96.1 394.7 L95.3 397.4 L94.1 399.7 L92.5 401.5 L90.7 403.3 L88.8 404.9 L86.8 406.6 L84.9 408.2 L83.0 410.0 L81.2 411.8 L79.4 413.7 L77.6 415.5 L76.0 417.5 L74.4 419.5 L72.9 421.6 L71.5 423.8 L70.3 426.0 L69.0 428.3 L67.9 430.6 L66.7 432.9 L65.6 435.2 L64.6 437.5 L63.6 439.9 L62.7 442.3 L61.8 444.7 L61.1 447.2 L60.6 449.7 L59.9 452.2 L59.6 454.7 L59.2 457.3 L58.9 459.8 L58.5 462.3 L58.2 464.9 L57.8 467.4 L57.4 469.9 L57.1 472.4 L56.8 474.9 L56.4 477.4 L56.0 479.9 L55.6 482.4" stroke="#555" stroke-width="0.95"/>
<path d="M314.2 491.0 L314.1 489.0 L313.9 487.0 L313.9 485.0 L313.8 483.0 L313.7 481.0 L313.5 479.0 L313.4 477.0 L313.3 475.0 L313.2 473.0 L313.1 471.0 L312.9 468.9 L312.8 466.9 L312.7 464.8 L312.6 462.7 L312.4 460.6 L312.3 458.5 L312.2 456.4 L312.1 454.2 L312.0 452.0 L311.9 449.8 L311.7 447.6 L311.6 445.3 L311.4 443.0 L311.2 440.8 L311.0 438.4 L310.8 436.1 L310.6 433.7 L310.3 431.3 L309.9 428.9 L309.6 426.5 L309.1 424.1 L308.6 421.7 L308.1 419.3 L307.4 417.0 L306.6 414.7 L305.7 412.4 L304.6 410.3 L302.4 409.1 L299.8 408.3 L297.5 407.2 L295.6 405.8 L293.8 404.4 L292.1 402.9 L290.4 401.3 L288.8 399.7 L287.2 398.1 L285.7 396.4 L284.2 394.6 L282.7 392.8 L281.4 390.9 L280.0 388.8 L278.8 386.6 L277.5 384.3 L276.3 381.9 L275.0 379.6 L273.7 377.1 L272.3 374.6 L270.9 372.1 L269.4 369.8 L267.7 367.6 L266.0 365.5 L264.3 363.3 L262.5 361.0 L260.7 358.7 L258.8 356.4 L256.9 354.1 L255.0 351.8 L252.9 349.6 L250.8 347.3 L248.7 345.2 L246.4 343.2 L244.0 341.6 L241.5 340.1 L239.0 338.7 L236.4 337.2 L233.9 335.6 L231.3 334.0 L228.7 332.4 L226.0 330.9 L223.3 329.4 L220.5 327.9 L217.7 326.6 L214.9 325.2 L212.0 324.0 L209.0 323.0 L206.0 322.3 L203.0 321.9 L200.0 321.7 L197.0 321.7 L194.0 321.8 L190.9 322.3 L188.0 323.1 L185.1 324.1 L182.2 325.4 L179.3 326.8 L176.6 328.2 L173.8 329.7 L171.1 331.2 L168.4 332.7 L165.8 334.3 L163.3 335.9 L160.8 337.7 L158.3 339.4 L155.9 341.3 L153.0 342.0 L151.5 342.9 L149.2 344.2 L146.8 345.6 L144.4 347.2 L142.2 348.9 L139.9 350.9 L137.7 352.8 L135.8 354.4 L134.2 355.7 L132.9 356.8 L131.6 357.8 L130.1 358.7 L128.3 359.5 L126.4 360.1 L124.5 360.8 L122.9 361.6 L121.6 362.5 L120.5 363.5 L119.5 364.6 L118.6 365.9 L117.7 367.4 L117.0 369.2 L116.3 371.1 L115.7 373.0 L115.2 375.0 L114.9 377.2 L114.6 379.4 L114.3 381.6 L114.0 383.8 L113.7 386.0 L113.3 388.2 L112.9 390.3 L112.4 392.3 L111.8 394.2 L111.2 396.0 L110.5 398.0 L109.8 399.9 L109.1 401.8 L108.2 403.9 L106.8 406.5 L104.8 409.8 L102.2 413.5 L99.5 417.5 L96.9 421.3 L94.4 425.1 L91.8 428.9 L89.4 432.6 L87.1 436.1 L85.1 439.3 L83.2 442.4 L81.4 445.4 L79.7 448.4 L77.8 451.8 L75.9 455.5 L74.2 458.7 L73.0 461.0" stroke="#888" stroke-width="1.0" stroke-dasharray="1 3.7"/>
<path d="M308.3 491.2 L308.2 489.3 L308.0 487.4 L308.0 485.6 L307.9 483.7 L307.8 481.8 L307.7 479.9 L307.6 478.0 L307.5 476.1 L307.3 474.1 L307.3 472.2 L307.2 470.3 L307.1 468.3 L306.9 466.3 L306.8 464.4 L306.7 462.4 L306.6 460.4 L306.5 458.3 L306.4 456.3 L306.3 454.2 L306.2 452.1 L306.0 450.0 L305.9 447.8 L305.8 445.7 L305.6 443.5 L305.5 441.3 L305.3 439.0 L305.1 436.7 L304.8 434.5 L304.5 432.2 L304.2 429.9 L303.7 427.6 L303.3 425.4 L302.7 423.1 L302.1 420.8 L301.3 418.6 L300.5 416.5 L299.4 414.5 L296.7 413.8 L293.9 413.4 L292.0 412.2 L290.3 410.8 L288.7 409.3 L287.1 407.9 L285.6 406.3 L284.1 404.8 L282.7 403.2 L281.3 401.5 L279.9 399.8 L278.5 398.0 L277.2 396.2 L276.0 394.2 L274.7 392.1 L273.5 390.0 L272.3 387.9 L270.9 385.8 L269.6 383.6 L268.2 381.4 L266.8 379.3 L265.3 377.2 L263.8 375.1 L262.2 372.9 L260.6 370.7 L259.0 368.4 L257.3 366.2 L255.6 364.0 L253.8 361.8 L251.9 359.7 L250.0 357.5 L248.1 355.4 L246.0 353.4 L243.9 351.5 L241.6 349.9 L239.3 348.3 L237.0 346.8 L234.6 345.2 L232.2 343.6 L229.8 341.9 L227.3 340.3 L224.8 338.6 L222.2 337.0 L219.6 335.5 L216.9 334.1 L214.2 332.7 L211.4 331.5 L208.6 330.5 L205.8 329.7 L202.9 329.2 L200.0 328.9 L197.1 328.8 L194.2 328.9 L191.3 329.3 L188.5 330.0 L185.6 330.9 L182.9 332.1 L180.2 333.5 L177.5 334.9 L174.9 336.3 L172.3 337.8 L169.7 339.3 L167.2 340.9 L164.8 342.5 L162.4 344.3 L160.1 346.1 L157.9 348.0 L155.7 350.0 L153.0 351.0 L152.2 351.4 L151.0 352.0 L149.6 352.8 L148.0 353.7 L146.1 354.9 L144.0 356.4 L141.8 358.0 L140.1 359.4 L138.9 360.6 L138.1 361.7 L137.3 362.9 L136.5 364.4 L135.4 366.4 L134.3 368.6 L133.1 371.0 L132.2 373.0 L131.5 374.6 L131.1 375.9 L130.6 377.2 L130.1 378.8 L129.4 380.8 L128.6 383.1 L127.8 385.4 L127.2 387.4 L126.8 388.9 L126.5 390.0 L126.2 391.3 L125.8 393.1 L125.2 395.8 L124.6 399.2 L123.8 402.7 L123.0 405.8 L122.0 408.5 L121.0 410.9 L119.8 413.3 L118.7 415.8 L117.6 418.4 L116.4 421.1 L115.3 424.0 L114.3 427.3 L113.4 431.2 L112.7 435.6 L112.0 440.1 L111.5 444.5 L111.2 449.1 L111.1 453.8 L111.0 458.1 L111.0 461.0" stroke="#505050" stroke-width="1.0" stroke-dasharray="6.2 4.3 1 4.3"/>
<path d="M303.1 491.4 L302.9 489.6 L302.8 487.8 L302.8 486.0 L302.7 484.2 L302.6 482.4 L302.5 480.6 L302.4 478.8 L302.3 477.0 L302.2 475.1 L302.1 473.3 L302.0 471.4 L301.9 469.6 L301.8 467.7 L301.7 465.8 L301.6 463.9 L301.5 462.0 L301.4 460.1 L301.3 458.1 L301.2 456.2 L301.1 454.1 L301.0 452.1 L300.9 450.1 L300.8 448.0 L300.7 445.9 L300.5 443.8 L300.4 441.6 L300.3 439.4 L300.0 437.2 L299.8 435.1 L299.4 432.9 L299.0 430.7 L298.5 428.5 L298.0 426.4 L297.3 424.3 L296.6 422.2 L295.8 420.1 L294.7 418.3 L291.7 418.1 L288.7 417.9 L287.0 416.6 L285.6 415.2 L284.1 413.7 L282.7 412.3 L281.3 410.8 L280.0 409.2 L278.6 407.7 L277.3 406.1 L276.0 404.4 L274.8 402.7 L273.6 400.8 L272.4 398.9 L271.2 397.0 L270.0 395.1 L268.7 393.2 L267.4 391.3 L266.0 389.4 L264.6 387.5 L263.2 385.6 L261.7 383.6 L260.3 381.6 L258.8 379.5 L257.4 377.2 L255.9 375.0 L254.4 372.9 L252.7 370.8 L251.0 368.7 L249.3 366.6 L247.5 364.6 L245.6 362.6 L243.6 360.7 L241.6 358.9 L239.5 357.2 L237.4 355.6 L235.2 353.9 L232.9 352.3 L230.7 350.7 L228.4 349.0 L226.1 347.2 L223.7 345.5 L221.2 343.9 L218.8 342.3 L216.2 340.8 L213.6 339.4 L211.0 338.2 L208.3 337.2 L205.5 336.3 L202.8 335.7 L200.0 335.3 L197.2 335.1 L194.4 335.2 L191.6 335.5 L188.9 336.1 L186.2 337.0 L183.5 338.1 L180.9 339.4 L178.3 340.8 L175.8 342.2 L173.3 343.6 L170.9 345.1 L168.5 346.7 L166.2 348.4 L163.9 350.2 L161.7 352.0 L159.6 354.0 L155.9 355.8 L155.1 356.4 L153.9 357.3 L152.7 358.3 L151.6 359.4 L150.8 360.5 L150.1 361.8 L149.4 363.1 L148.7 364.4 L147.8 365.8 L146.9 367.3 L145.9 368.7 L145.2 370.2 L144.7 371.6 L144.4 373.1 L144.1 374.5 L143.7 375.9 L143.2 377.3 L142.6 378.7 L142.1 380.2 L141.6 381.6 L141.2 383.0 L140.8 384.4 L140.5 385.9 L140.1 387.4 L139.7 388.9 L139.4 390.4 L139.0 392.1 L138.7 394.0 L138.4 396.3 L138.1 398.8 L137.7 401.5 L137.3 404.3 L136.7 407.1 L136.0 410.0 L135.2 413.0 L134.5 416.0 L133.7 419.3 L133.0 422.8 L132.2 426.1 L131.6 428.7 L131.1 430.1 L130.8 430.7 L130.4 431.4 L130.1 433.0 L129.7 436.0 L129.4 439.8 L129.0 443.9 L128.7 447.4 L128.3 450.4 L127.9 453.1 L127.6 455.5 L127.3 457.4 L127.2 458.8 L127.2 459.8 L127.3 460.5 L127.3 461.0" stroke="#505050" stroke-width="1.0" stroke-dasharray="6.2 6.6"/>
<path d="M297.4 491.6 L297.3 489.9 L297.1 488.2 L297.1 486.5 L297.1 484.8 L297.0 483.1 L296.9 481.4 L296.8 479.7 L296.7 478.0 L296.5 476.2 L296.5 474.5 L296.5 472.7 L296.4 471.0 L296.3 469.2 L296.1 467.4 L296.0 465.6 L296.0 463.8 L295.9 462.0 L295.8 460.1 L295.7 458.3 L295.6 456.4 L295.5 454.5 L295.4 452.5 L295.4 450.5 L295.3 448.5 L295.2 446.5 L295.1 444.4 L295.0 442.3 L294.8 440.3 L294.6 438.2 L294.2 436.1 L293.8 434.1 L293.4 432.0 L292.8 430.0 L292.2 428.0 L291.5 426.0 L290.8 424.1 L289.7 422.4 L286.2 422.6 L283.1 422.8 L281.7 421.5 L280.4 420.0 L279.2 418.5 L277.9 417.1 L276.7 415.6 L275.5 414.1 L274.2 412.6 L273.0 411.0 L271.9 409.4 L270.7 407.7 L269.6 405.9 L268.5 404.1 L267.3 402.3 L266.1 400.6 L264.8 398.9 L263.5 397.3 L262.1 395.7 L260.7 394.0 L259.2 392.4 L257.8 390.7 L256.5 388.8 L255.2 386.7 L253.9 384.4 L252.6 382.2 L251.2 380.1 L249.6 378.1 L248.0 376.1 L246.4 374.1 L244.7 372.2 L242.9 370.4 L241.1 368.6 L239.2 366.9 L237.2 365.1 L235.3 363.4 L233.2 361.7 L231.2 360.0 L229.0 358.3 L226.9 356.6 L224.7 354.8 L222.5 353.0 L220.2 351.2 L217.9 349.6 L215.4 348.0 L213.0 346.7 L210.5 345.5 L207.9 344.4 L205.3 343.5 L202.7 342.8 L200.0 342.3 L197.3 342.0 L194.7 342.0 L192.0 342.2 L189.4 342.7 L186.7 343.5 L184.2 344.5 L181.7 345.8 L179.2 347.2 L176.8 348.6 L174.4 350.0 L172.1 351.5 L169.8 353.1 L167.6 354.7 L165.5 356.5 L163.4 358.4 L161.4 360.4 L159.5 362.6 L157.8 365.0 L156.2 367.7 L154.6 370.4 L153.2 373.1 L151.9 375.9 L150.6 378.6 L149.4 381.3 L148.2 384.0 L147.1 386.6 L146.1 389.1 L145.0 391.6 L144.0 394.0 L143.1 396.4 L142.2 398.7 L141.3 401.0 L140.4 403.2 L139.5 405.4 L138.7 407.5 L137.9 409.5 L137.1 411.5 L136.3 413.5 L135.5 415.4 L134.8 417.2 L134.0 419.0 L133.1 420.7 L132.0 422.1 L130.7 423.3 L129.4 424.4 L127.9 425.4 L126.3 426.3 L124.7 427.2 L123.0 428.1 L121.3 428.9 L119.5 429.8 L117.6 430.6 L115.8 431.5 L113.9 432.4 L112.1 433.4 L110.3 434.5 L108.5 435.6 L106.7 436.7 L105.2 438.0 L103.8 439.5 L102.6 441.0 L101.6 442.7 L100.8 444.4 L100.0 446.2 L99.1 448.0 L98.4 449.7 L97.7 451.6 L97.0 453.4 L96.3 455.2 L95.6 457.0 L94.9 458.8 L94.1 460.6 L93.4 462.4 L92.7 464.2 L92.0 466.1 L91.2 467.9 L90.5 469.7 L89.8 471.6 L89.1 473.4 L88.4 475.3" stroke="#555" stroke-width="0.95"/>
<path d="M292.1 491.8 L291.9 490.2 L291.6 488.6 L291.5 487.0 L291.3 485.4 L291.1 483.8 L290.9 482.2 L290.7 480.6 L290.5 479.0 L290.3 477.5 L290.1 475.8 L290.0 474.2 L289.8 472.6 L289.5 471.0 L289.3 469.4 L289.1 467.7 L289.0 466.1 L288.8 464.4 L288.6 462.8 L288.4 461.1 L288.2 459.4 L288.0 457.7 L287.8 455.9 L287.6 454.1 L287.5 452.3 L287.3 450.5 L287.1 448.7 L286.9 446.8 L286.6 445.0 L286.3 443.1 L285.9 441.3 L285.5 439.5 L285.0 437.6 L284.5 435.8 L283.9 434.0 L283.3 432.2 L282.6 430.5 L281.7 428.9 L279.0 428.7 L276.5 428.5 L275.4 427.1 L274.3 425.7 L273.2 424.3 L272.2 422.8 L271.1 421.4 L270.0 419.9 L268.9 418.5 L267.8 417.0 L266.8 415.4 L265.7 413.8 L264.7 412.2 L263.7 410.5 L262.6 408.8 L261.5 407.2 L260.3 405.6 L259.1 404.0 L257.9 402.4 L256.6 400.8 L255.3 399.2 L254.0 397.5 L252.8 395.7 L251.6 393.7 L250.4 391.6 L249.2 389.5 L247.9 387.5 L246.5 385.5 L245.0 383.6 L243.5 381.7 L241.9 379.8 L240.3 378.0 L238.6 376.3 L236.8 374.5 L235.0 372.8 L233.2 371.2 L231.3 369.5 L229.4 367.8 L227.4 366.1 L225.4 364.3 L223.3 362.6 L221.3 360.8 L219.1 359.1 L216.9 357.3 L214.7 355.4 L212.3 353.9 L210.0 352.6 L207.5 351.5 L205.0 350.5 L202.5 349.7 L200.0 349.1 L197.4 348.9 L194.9 349.0 L192.4 349.4 L189.9 350.0 L187.4 350.9 L185.0 352.0 L182.6 353.4 L180.3 354.8 L178.0 356.3 L175.8 357.9 L173.7 359.6 L171.6 361.5 L169.7 363.5 L167.7 365.6 L165.9 367.7 L164.1 369.9 L162.5 372.3 L161.0 374.8 L159.6 377.6 L158.0 380.0 L157.3 382.1 L156.4 385.2 L155.4 388.5 L154.5 391.4 L153.9 393.6 L153.4 395.4 L153.0 397.1 L152.5 399.0 L152.0 400.9 L151.4 402.9 L150.8 404.9 L150.2 407.2 L149.5 409.9 L148.8 413.0 L148.0 416.0 L147.3 418.7 L146.7 420.8 L146.1 422.6 L145.5 424.3 L145.0 426.0 L144.5 427.8 L144.1 429.6 L143.6 431.4 L143.0 433.0 L142.2 434.4 L141.2 435.5 L140.1 436.7 L139.0 438.0 L137.9 439.4 L136.7 440.9 L135.5 442.6 L134.4 444.5 L133.3 446.9 L132.1 449.6 L131.0 452.3 L130.1 454.6 L129.4 456.6 L128.8 458.4 L128.3 459.9 L128.0 461.0" stroke="#888" stroke-width="1.0" stroke-dasharray="1 3.7"/>
<path d="M287.4 491.9 L287.1 490.4 L286.7 488.9 L286.5 487.4 L286.2 485.9 L285.8 484.5 L285.6 483.0 L285.3 481.5 L285.0 480.0 L284.7 478.5 L284.5 477.0 L284.2 475.6 L283.9 474.1 L283.6 472.6 L283.2 471.1 L283.0 469.6 L282.7 468.1 L282.5 466.6 L282.2 465.1 L281.9 463.6 L281.6 462.0 L281.3 460.5 L281.0 458.9 L280.8 457.3 L280.5 455.7 L280.2 454.1 L279.9 452.5 L279.6 450.9 L279.3 449.2 L278.9 447.6 L278.5 445.9 L278.1 444.3 L277.6 442.6 L277.1 441.0 L276.5 439.4 L276.0 437.8 L275.3 436.2 L274.5 434.6 L272.6 434.1 L270.7 433.5 L269.8 432.2 L268.9 430.8 L268.0 429.4 L267.0 428.0 L266.1 426.6 L265.1 425.1 L264.2 423.7 L263.2 422.3 L262.3 420.8 L261.3 419.3 L260.3 417.8 L259.4 416.2 L258.4 414.6 L257.4 413.0 L256.3 411.5 L255.2 409.9 L254.1 408.4 L253.0 406.8 L251.8 405.2 L250.7 403.6 L249.5 401.8 L248.4 399.9 L247.3 397.9 L246.2 395.9 L245.0 394.0 L243.7 392.1 L242.3 390.2 L240.9 388.4 L239.5 386.6 L237.9 384.8 L236.4 383.1 L234.7 381.4 L233.1 379.7 L231.3 378.0 L229.6 376.3 L227.8 374.7 L225.9 373.0 L224.1 371.2 L222.1 369.5 L220.2 367.8 L218.1 366.0 L216.1 364.2 L214.0 361.9 L211.8 360.4 L209.5 359.0 L207.2 357.7 L204.8 356.7 L202.4 355.8 L200.0 355.2 L197.6 355.0 L195.1 355.2 L192.7 355.8 L190.3 356.5 L188.0 357.4 L185.7 358.7 L183.4 360.1 L181.2 361.6 L179.1 363.2 L177.1 364.9 L175.1 366.9 L173.2 369.0 L171.5 371.4 L169.8 373.7 L168.1 376.1 L166.6 378.4 L165.1 380.9 L163.7 383.2 L163.1 384.9 L162.2 387.4 L161.2 390.2 L160.3 393.0 L159.6 395.6 L158.9 398.4 L158.2 401.2 L157.4 404.3 L156.4 407.7 L155.3 411.4 L154.2 415.1 L153.1 418.7 L152.0 422.1 L150.9 425.3 L149.8 428.5 L148.8 431.6 L148.0 434.5 L147.3 437.4 L146.6 440.2 L145.9 443.1 L145.1 446.4 L144.3 450.0 L143.6 453.3 L143.0 456.0 L142.7 457.9 L142.6 459.3 L142.5 460.3 L142.5 461.0" stroke="#505050" stroke-width="1.0" stroke-dasharray="6.2 4.3 1 4.3"/>
<path d="M282.7 492.1 L282.3 490.7 L281.9 489.3 L281.4 487.9 L281.0 486.5 L280.6 485.1 L280.2 483.7 L279.9 482.3 L279.5 481.0 L279.2 479.6 L278.8 478.3 L278.4 476.9 L278.0 475.5 L277.6 474.2 L277.2 472.9 L276.8 471.5 L276.5 470.1 L276.2 468.8 L275.8 467.4 L275.4 466.1 L275.0 464.7 L274.6 463.3 L274.2 461.9 L273.9 460.5 L273.5 459.1 L273.2 457.7 L272.8 456.3 L272.4 454.9 L272.0 453.4 L271.6 452.0 L271.1 450.5 L270.7 449.1 L270.2 447.7 L269.7 446.2 L269.2 444.7 L268.6 443.3 L268.1 441.8 L267.4 440.4 L266.1 439.5 L264.9 438.6 L264.2 437.2 L263.4 435.9 L262.7 434.5 L261.9 433.1 L261.1 431.7 L260.3 430.4 L259.4 429.0 L258.6 427.6 L257.7 426.2 L256.9 424.8 L256.0 423.3 L255.1 421.9 L254.2 420.4 L253.3 418.9 L252.3 417.4 L251.4 415.9 L250.4 414.4 L249.4 412.8 L248.4 411.3 L247.3 409.6 L246.3 407.9 L245.3 406.2 L244.2 404.3 L243.2 402.4 L242.1 400.5 L240.9 398.7 L239.7 396.9 L238.4 395.1 L237.0 393.3 L235.6 391.6 L234.2 389.9 L232.7 388.2 L231.1 386.5 L229.5 384.9 L227.9 383.2 L226.2 381.5 L224.5 379.8 L222.7 378.1 L220.9 376.4 L219.1 374.7 L217.2 373.0 L215.2 371.1 L213.3 368.5 L211.2 366.8 L209.1 365.3 L206.9 364.0 L204.6 362.8 L202.3 361.9 L200.0 361.3 L197.7 361.1 L195.3 361.5 L193.0 362.1 L190.8 363.0 L188.5 364.0 L186.4 365.3 L184.3 366.8 L182.2 368.4 L180.2 370.0 L178.3 371.9 L176.5 374.1 L174.8 376.6 L173.3 379.2 L171.8 381.8 L170.4 384.4 L169.0 386.9 L167.7 389.5 L166.6 392.2 L166.1 394.3 L165.3 397.4 L164.5 400.8 L163.8 404.3 L163.2 407.6 L162.8 410.9 L162.3 414.5 L161.7 418.7 L161.0 423.7 L160.2 429.3 L159.5 435.0 L158.8 440.2 L158.2 445.1 L157.6 449.9 L157.1 454.2 L156.7 457.4 L156.5 459.3 L156.5 460.3 L156.5 460.7 L156.5 461.0" stroke="#505050" stroke-width="1.0" stroke-dasharray="6.2 6.6"/>
<path d="M277.8 492.3 L277.3 490.9 L276.8 489.6 L276.2 488.3 L275.7 487.0 L275.1 485.8 L274.7 484.5 L274.2 483.2 L273.8 482.0 L273.4 480.7 L272.9 479.5 L272.4 478.3 L271.9 477.1 L271.3 475.9 L270.8 474.7 L270.4 473.5 L270.0 472.2 L269.6 471.0 L269.1 469.8 L268.6 468.6 L268.2 467.5 L267.6 466.3 L267.2 465.1 L266.7 463.9 L266.3 462.7 L265.8 461.5 L265.3 460.3 L264.8 459.1 L264.4 457.8 L263.9 456.6 L263.4 455.4 L262.9 454.1 L262.5 452.9 L262.0 451.6 L261.5 450.3 L261.0 449.0 L260.5 447.7 L260.0 446.5 L259.4 445.1 L258.9 443.8 L258.3 442.5 L257.8 441.1 L257.2 439.8 L256.5 438.5 L255.9 437.1 L255.2 435.8 L254.5 434.5 L253.8 433.1 L253.0 431.8 L252.2 430.5 L251.4 429.2 L250.6 427.8 L249.8 426.4 L249.0 425.0 L248.2 423.6 L247.3 422.1 L246.5 420.6 L245.6 419.1 L244.7 417.5 L243.8 416.0 L242.9 414.3 L241.9 412.7 L241.0 410.9 L240.0 409.2 L239.0 407.3 L238.0 405.5 L236.9 403.8 L235.7 402.1 L234.4 400.4 L233.2 398.7 L231.8 397.0 L230.5 395.3 L229.1 393.6 L227.6 392.0 L226.1 390.3 L224.5 388.7 L223.0 387.0 L221.3 385.3 L219.6 383.6 L217.9 381.9 L216.1 380.2 L214.3 378.3 L212.6 375.3 L210.6 373.5 L208.6 371.9 L206.5 370.5 L204.4 369.3 L202.2 368.3 L200.0 367.6 L197.8 367.5 L195.6 368.0 L193.4 368.7 L191.2 369.7 L189.1 370.9 L187.1 372.2 L185.1 373.8 L183.2 375.4 L181.3 377.2 L179.6 379.2 L178.0 381.6 L176.5 384.4 L175.1 387.3 L173.9 390.3 L172.7 393.0 L171.5 395.7 L170.5 398.4 L169.5 401.3 L168.8 404.3 L168.1 407.4 L167.6 410.6 L167.1 413.6 L166.7 416.5 L166.3 419.3 L165.9 421.9 L165.5 424.3 L165.2 426.6 L164.8 428.9 L164.5 431.0 L164.2 433.0 L163.9 434.9 L163.6 436.8 L163.4 438.6 L163.1 440.4 L162.9 442.0 L162.7 443.7 L162.5 445.2 L162.3 446.7 L162.1 448.2 L161.9 449.6 L161.7 451.0 L161.5 452.3 L161.4 453.6 L161.2 454.8 L161.0 456.0 L160.9 457.2 L160.8 458.4 L160.6 459.5 L160.4 460.6 L160.2 461.6 L160.1 462.7 L159.9 463.7 L159.8 464.7 L159.8 465.8 L159.7 466.8 L159.5 467.7 L159.3 468.5 L159.1 469.4 L158.9 470.3 L158.8 471.2 L158.7 472.1 L158.6 473.0 L158.5 473.9 L158.5 474.7 L158.4 475.6 L158.4 476.5 L158.2 477.3 L158.0 478.0" stroke="#555" stroke-width="0.95"/>
<path d="M261.9 492.8 L261.5 491.8 L261.2 490.7 L260.8 489.7 L260.4 488.7 L260.0 487.6 L259.7 486.6 L259.4 485.6 L259.0 484.6 L258.7 483.6 L258.3 482.6 L257.9 481.6 L257.6 480.6 L257.3 479.6 L257.0 478.7 L256.7 477.7 L256.4 476.7 L256.1 475.7 L255.8 474.7 L255.5 473.7 L255.2 472.7 L254.8 471.7 L254.5 470.7 L254.2 469.7 L253.8 468.7 L253.5 467.7 L253.1 466.8 L252.7 465.8 L252.4 464.8 L252.1 463.7 L251.7 462.7 L251.4 461.6 L251.1 460.5 L250.8 459.4 L250.4 458.3 L250.1 457.2 L249.7 456.2 L249.3 455.0 L249.0 453.9 L248.5 452.8 L248.1 451.7 L247.7 450.5 L247.3 449.3 L246.9 448.1 L246.4 446.9 L246.0 445.7 L245.5 444.5 L244.9 443.3 L244.4 442.1 L243.9 440.8 L243.3 439.6 L242.7 438.3 L242.2 437.0 L241.6 435.6 L241.0 434.2 L240.4 432.8 L239.7 431.4 L239.1 430.0 L238.4 428.5 L237.7 427.1 L236.9 425.6 L236.1 424.1 L235.4 422.5 L234.6 420.9 L233.7 419.2 L232.9 417.6 L231.9 415.9 L231.0 414.3 L230.0 412.7 L228.9 411.1 L227.8 409.4 L226.7 407.7 L225.5 405.9 L224.4 404.1 L223.1 402.3 L221.8 400.4 L220.5 398.5 L219.1 396.6 L217.7 394.7 L216.2 392.8 L214.6 390.9 L213.0 388.8 L211.4 386.1 L209.7 384.1 L207.9 382.3 L206.0 380.6 L204.1 379.0 L202.1 377.5 L200.0 376.3 L197.9 375.8 L195.9 376.3 L193.9 377.9 L192.0 379.9 L190.1 382.1 L188.4 384.5 L186.7 386.9 L185.1 389.3 L183.6 391.7 L182.2 394.1 L180.9 397.0 L179.8 400.0 L178.8 403.0 L177.8 405.9 L176.9 408.6 L176.0 411.2 L175.2 413.9 L174.5 416.5 L173.9 419.3 L173.4 422.0 L173.0 424.8 L172.7 427.4 L172.3 429.8 L172.0 432.2 L171.7 434.4 L171.4 436.4 L171.1 438.4 L170.9 440.2 L170.7 442.1 L170.4 443.8 L170.2 445.4 L170.0 447.0 L169.8 448.4 L169.6 449.9 L169.4 451.2 L169.2 452.6 L169.0 453.9 L168.9 455.2 L168.7 456.4 L168.6 457.6 L168.5 458.8 L168.4 459.9 L168.3 461.0 L168.1 462.0 L168.0 463.0 L167.8 463.9 L167.7 464.9 L167.5 465.8 L167.4 466.6 L167.2 467.5 L167.1 468.4 L167.0 469.2 L166.9 470.0 L166.8 470.9 L166.7 471.7 L166.6 472.5 L166.5 473.2 L166.3 474.0 L166.2 474.7 L166.2 475.5 L166.1 476.2 L166.0 476.9 L166.0 477.7 L166.0 478.4 L165.9 479.1 L165.9 479.8 L165.8 480.5 L165.7 481.2" stroke="#888" stroke-width="1.0" stroke-dasharray="1 3.7"/>
<path d="M252.6 493.2 L252.4 492.3 L252.1 491.4 L251.8 490.5 L251.5 489.6 L251.2 488.7 L251.0 487.8 L250.7 487.0 L250.5 486.1 L250.2 485.2 L249.9 484.4 L249.6 483.6 L249.4 482.7 L249.2 481.8 L248.9 481.0 L248.8 480.1 L248.6 479.2 L248.4 478.3 L248.1 477.5 L247.9 476.6 L247.6 475.7 L247.4 474.9 L247.1 474.0 L246.9 473.1 L246.6 472.3 L246.3 471.4 L246.0 470.5 L245.7 469.6 L245.4 468.8 L245.2 467.8 L245.0 466.9 L244.8 465.9 L244.5 465.0 L244.3 464.0 L244.0 463.0 L243.8 462.0 L243.5 461.0 L243.2 460.0 L242.9 459.0 L242.6 458.0 L242.2 457.0 L241.9 455.9 L241.6 454.8 L241.3 453.7 L241.0 452.6 L240.6 451.4 L240.2 450.3 L239.8 449.2 L239.4 448.1 L239.0 446.8 L238.6 445.6 L238.2 444.4 L237.7 443.1 L237.3 441.8 L236.8 440.4 L236.4 439.0 L235.8 437.6 L235.3 436.3 L234.7 434.9 L234.1 433.5 L233.4 432.1 L232.8 430.6 L232.1 429.2 L231.4 427.6 L230.7 426.1 L229.9 424.5 L229.1 423.0 L228.2 421.4 L227.4 419.8 L226.4 418.2 L225.5 416.6 L224.5 414.8 L223.5 413.0 L222.5 411.1 L221.4 409.1 L220.2 407.3 L219.0 405.5 L217.8 403.7 L216.4 401.8 L215.1 399.9 L213.6 398.0 L212.2 396.0 L210.7 393.6 L209.0 391.6 L207.4 389.8 L205.6 388.0 L203.8 386.2 L201.9 384.5 L200.0 382.9 L198.0 382.0 L196.1 382.4 L194.2 384.4 L192.4 386.8 L190.8 389.5 L189.2 392.3 L187.7 394.9 L186.3 397.3 L184.9 399.6 L183.6 401.7 L182.5 404.9 L181.5 408.0 L180.6 411.0 L179.8 413.9 L179.0 416.6 L178.3 419.3 L177.6 421.8 L177.1 424.4 L176.6 427.0 L176.2 429.6 L175.8 432.1 L175.5 434.4 L175.2 436.7 L175.0 438.9 L174.7 440.8 L174.5 442.7 L174.2 444.4 L174.0 446.1 L173.8 447.8 L173.7 449.4 L173.5 450.8 L173.2 452.2 L173.0 453.5 L172.9 454.8 L172.7 456.0 L172.5 457.2 L172.4 458.4 L172.3 459.5 L172.2 460.6 L172.1 461.7 L172.0 462.8 L171.9 463.8 L171.9 464.8 L171.7 465.7 L171.5 466.5 L171.4 467.4 L171.3 468.2 L171.1 469.0 L171.0 469.8 L170.8 470.5 L170.7 471.3 L170.6 472.0 L170.5 472.8 L170.5 473.5 L170.4 474.3 L170.3 474.9 L170.2 475.6 L170.1 476.3 L170.0 477.0 L169.9 477.6 L169.9 478.3 L169.8 479.0 L169.8 479.6 L169.8 480.3 L169.8 480.9 L169.8 481.6 L169.8 482.2 L169.7 482.8" stroke="#505050" stroke-width="1.0" stroke-dasharray="6.2 4.3 1 4.3"/>
<path d="M251.0 493.2 L250.7 492.3 L250.5 491.5 L250.2 490.6 L249.9 489.8 L249.6 488.9 L249.4 488.1 L249.2 487.2 L248.9 486.4 L248.6 485.5 L248.4 484.7 L248.1 483.9 L247.9 483.1 L247.7 482.2 L247.5 481.4 L247.3 480.5 L247.1 479.7 L246.9 478.8 L246.7 478.0 L246.5 477.1 L246.3 476.3 L246.0 475.5 L245.8 474.6 L245.6 473.8 L245.3 472.9 L245.0 472.0 L244.8 471.2 L244.5 470.4 L244.2 469.5 L243.9 468.6 L243.8 467.7 L243.6 466.7 L243.3 465.8 L243.1 464.8 L242.9 463.8 L242.6 462.9 L242.4 461.9 L242.1 460.9 L241.8 459.9 L241.5 458.9 L241.1 458.0 L240.8 456.9 L240.6 455.8 L240.3 454.7 L240.0 453.6 L239.6 452.5 L239.3 451.4 L238.9 450.3 L238.5 449.1 L238.1 447.9 L237.7 446.7 L237.3 445.5 L236.9 444.2 L236.5 442.9 L236.1 441.5 L235.6 440.1 L235.1 438.8 L234.6 437.4 L234.0 436.1 L233.4 434.7 L232.8 433.3 L232.2 431.8 L231.5 430.4 L230.8 428.9 L230.1 427.3 L229.4 425.8 L228.6 424.3 L227.8 422.7 L226.9 421.1 L226.0 419.5 L225.1 417.9 L224.1 416.1 L223.1 414.3 L222.1 412.4 L221.1 410.4 L219.9 408.9 L218.6 407.3 L217.4 405.7 L216.0 404.0 L214.7 402.4 L213.3 400.6 L211.8 398.8 L210.3 396.7 L208.8 395.0 L207.1 393.3 L205.4 391.6 L203.7 389.9 L201.9 388.2 L200.0 386.6 L198.1 385.6 L196.2 386.3 L194.4 388.8 L192.8 391.9 L191.3 395.4 L189.9 398.9 L188.6 402.3 L187.4 405.4 L186.3 408.4 L185.2 411.2 L184.4 414.6 L183.6 417.9 L182.9 421.0 L182.3 423.9 L181.7 426.6 L181.1 429.1 L180.6 431.6 L180.2 434.1 L179.9 436.5 L179.6 438.9 L179.3 441.1 L179.1 443.2 L178.8 445.2 L178.7 447.1 L178.5 448.8 L178.2 450.4 L178.0 451.9 L177.9 453.4 L177.7 454.8 L177.6 456.3 L177.5 457.5 L177.3 458.6 L177.1 459.7 L176.9 460.8 L176.8 461.8 L176.7 462.9 L176.5 463.9 L176.5 464.9 L176.4 465.8 L176.3 466.8 L176.3 467.7 L176.3 468.6 L176.3 469.5 L176.1 470.3 L176.0 471.0 L175.8 471.6 L175.7 472.3 L175.6 473.0 L175.4 473.6 L175.3 474.3 L175.2 474.9 L175.1 475.5 L175.0 476.2 L175.0 476.8 L174.9 477.4 L174.8 478.0 L174.7 478.6 L174.7 479.2 L174.6 479.8 L174.6 480.3 L174.6 480.9 L174.6 481.5 L174.6 482.0 L174.6 482.6 L174.6 483.2 L174.6 483.7 L174.6 484.2 L174.6 484.8" stroke="#505050" stroke-width="1.0" stroke-dasharray="6.2 6.6"/>
<path d="M235.8 493.7 L235.8 493.1 L235.7 492.5 L235.6 491.9 L235.5 491.3 L235.3 490.7 L235.2 490.1 L235.0 489.4 L234.9 488.8 L234.7 488.3 L234.5 487.7 L234.4 487.1 L234.4 486.4 L234.4 485.8 L234.3 485.2 L234.3 484.5 L234.3 483.9 L234.2 483.2 L234.1 482.6 L234.1 481.9 L234.0 481.3 L233.9 480.6 L233.8 480.0 L233.6 479.3 L233.5 478.7 L233.3 478.0 L233.2 477.4 L233.0 476.7 L232.8 476.1 L232.7 475.3 L232.7 474.6 L232.6 473.8 L232.6 473.0 L232.5 472.2 L232.4 471.4 L232.3 470.7 L232.2 469.9 L232.0 469.1 L231.9 468.3 L231.7 467.5 L231.5 466.7 L231.3 465.8 L231.2 464.8 L231.1 463.9 L231.0 462.9 L230.9 461.9 L230.7 460.9 L230.5 459.9 L230.3 458.9 L230.2 457.7 L230.0 456.6 L229.8 455.4 L229.6 454.2 L229.5 452.9 L229.3 451.6 L229.1 450.2 L228.7 449.0 L228.4 447.7 L228.0 446.5 L227.6 445.2 L227.2 443.9 L226.7 442.6 L226.2 441.3 L225.7 439.9 L225.1 438.6 L224.5 437.2 L223.9 435.8 L223.3 434.3 L222.6 432.8 L221.9 431.3 L221.2 429.6 L220.5 427.8 L219.8 425.9 L219.1 423.9 L218.3 421.7 L217.5 419.4 L216.6 417.1 L215.6 414.8 L214.6 412.4 L213.4 410.1 L212.3 407.7 L211.0 405.3 L209.7 402.9 L208.3 400.5 L206.8 398.2 L205.2 395.9 L203.5 393.7 L201.8 391.4 L200.0 389.2 L198.1 388.5 L196.3 389.6 L194.6 392.9 L193.2 397.1 L191.8 401.8 L190.7 406.6 L189.7 411.3 L188.9 415.8 L188.1 420.1 L187.5 424.3 L187.0 428.1 L186.5 431.6 L186.1 434.7 L185.7 437.6 L185.3 440.3 L185.0 442.8 L184.8 445.2 L184.6 447.5 L184.4 449.7 L184.2 451.7 L184.1 453.6 L183.9 455.3 L183.8 456.9 L183.7 458.4 L183.6 459.8 L183.4 461.0 L183.3 462.2 L183.2 463.4 L183.1 464.6 L183.1 465.8 L183.0 466.8 L182.8 467.6 L182.7 468.3 L182.6 469.1 L182.4 469.9 L182.4 470.7 L182.3 471.5 L182.2 472.3 L182.2 473.0 L182.2 473.8 L182.2 474.6 L182.3 475.3 L182.3 476.1 L182.2 476.6 L182.1 477.1 L181.9 477.5 L181.8 478.0 L181.7 478.5 L181.6 479.0 L181.5 479.4 L181.4 479.9 L181.3 480.4 L181.2 480.8 L181.2 481.3 L181.1 481.8 L181.1 482.2 L181.1 482.7 L181.0 483.2 L181.0 483.6 L181.0 484.1 L181.1 484.5 L181.1 484.9 L181.1 485.4 L181.2 485.8 L181.2 486.2 L181.3 486.7 L181.4 487.1 L181.4 487.5" stroke="#555" stroke-width="0.95"/>
</g>
<rect x="39.6" y="252.9" width="287.5" height="206.4" fill="none" stroke="#555" stroke-width="1.1"/>
<text x="39.6" y="473" font-size="10.9" text-anchor="middle" >5.5</text>
<line x1="111.47" y1="459.3" x2="111.47" y2="456.3" stroke="#555" stroke-width="1.1"/>
<line x1="111.47" y1="252.9" x2="111.47" y2="255.9" stroke="#555" stroke-width="1.1"/>
<text x="111.47" y="473" font-size="10.9" text-anchor="middle" >6</text>
<line x1="183.35" y1="459.3" x2="183.35" y2="456.3" stroke="#555" stroke-width="1.1"/>
<line x1="183.35" y1="252.9" x2="183.35" y2="255.9" stroke="#555" stroke-width="1.1"/>
<text x="183.35" y="473" font-size="10.9" text-anchor="middle" >6.5</text>
<line x1="255.22" y1="459.3" x2="255.22" y2="456.3" stroke="#555" stroke-width="1.1"/>
<line x1="255.22" y1="252.9" x2="255.22" y2="255.9" stroke="#555" stroke-width="1.1"/>
<text x="255.22" y="473" font-size="10.9" text-anchor="middle" >7</text>
<text x="327.1" y="473" font-size="10.9" text-anchor="middle" >7.5</text>
<text x="36.3" y="463.6" font-size="10.9" text-anchor="end" >27</text>
<line x1="39.6" y1="418.02" x2="42.6" y2="418.02" stroke="#555" stroke-width="1.1"/>
<line x1="327.1" y1="418.02" x2="324.1" y2="418.02" stroke="#555" stroke-width="1.1"/>
<text x="36.3" y="422.32" font-size="10.9" text-anchor="end" >28</text>
<line x1="39.6" y1="376.74" x2="42.6" y2="376.74" stroke="#555" stroke-width="1.1"/>
<line x1="327.1" y1="376.74" x2="324.1" y2="376.74" stroke="#555" stroke-width="1.1"/>
<text x="36.3" y="381.04" font-size="10.9" text-anchor="end" >29</text>
<line x1="39.6" y1="335.46" x2="42.6" y2="335.46" stroke="#555" stroke-width="1.1"/>
<line x1="327.1" y1="335.46" x2="324.1" y2="335.46" stroke="#555" stroke-width="1.1"/>
<text x="36.3" y="339.76" font-size="10.9" text-anchor="end" >30</text>
<line x1="39.6" y1="294.18" x2="42.6" y2="294.18" stroke="#555" stroke-width="1.1"/>
<line x1="327.1" y1="294.18" x2="324.1" y2="294.18" stroke="#555" stroke-width="1.1"/>
<text x="36.3" y="298.48" font-size="10.9" text-anchor="end" >31</text>
<text x="36.3" y="257.2" font-size="10.9" text-anchor="end" >32</text>
<text x="183.85" y="486" font-size="11.1" text-anchor="middle" >log T (K)</text>
<text transform="translate(17.4,356.1) rotate(-90)" font-size="10.9" text-anchor="middle">log EM (cm<tspan dy="-5.2" font-size="7.8">&#8722;5</tspan><tspan dy="5.2">)</tspan></text>
<text x="44.2" y="265.7" font-size="10.95" text-anchor="start" >Power Law m = &#8722;2.5</text>
<text x="44.2" y="278.3" font-size="10.95" text-anchor="start" >No waiting time</text>
<rect x="375.5" y="9.8" width="208.25" height="101.6" fill="none" stroke="#555" stroke-width="1.1"/>
<line x1="417.15" y1="111.4" x2="417.15" y2="108.8" stroke="#555" stroke-width="1.1"/>
<line x1="417.15" y1="9.8" x2="417.15" y2="12.4" stroke="#555" stroke-width="1.1"/>
<line x1="458.8" y1="111.4" x2="458.8" y2="108.8" stroke="#555" stroke-width="1.1"/>
<line x1="458.8" y1="9.8" x2="458.8" y2="12.4" stroke="#555" stroke-width="1.1"/>
<line x1="500.45" y1="111.4" x2="500.45" y2="108.8" stroke="#555" stroke-width="1.1"/>
<line x1="500.45" y1="9.8" x2="500.45" y2="12.4" stroke="#555" stroke-width="1.1"/>
<line x1="542.1" y1="111.4" x2="542.1" y2="108.8" stroke="#555" stroke-width="1.1"/>
<line x1="542.1" y1="9.8" x2="542.1" y2="12.4" stroke="#555" stroke-width="1.1"/>
<line x1="375.5" y1="96.11" x2="377.1" y2="96.11" stroke="#555" stroke-width="0.8"/>
<line x1="583.75" y1="96.11" x2="582.15" y2="96.11" stroke="#555" stroke-width="0.8"/>
<line x1="375.5" y1="87.16" x2="377.1" y2="87.16" stroke="#555" stroke-width="0.8"/>
<line x1="583.75" y1="87.16" x2="582.15" y2="87.16" stroke="#555" stroke-width="0.8"/>
<line x1="375.5" y1="80.82" x2="377.1" y2="80.82" stroke="#555" stroke-width="0.8"/>
<line x1="583.75" y1="80.82" x2="582.15" y2="80.82" stroke="#555" stroke-width="0.8"/>
<line x1="375.5" y1="75.89" x2="377.1" y2="75.89" stroke="#555" stroke-width="0.8"/>
<line x1="583.75" y1="75.89" x2="582.15" y2="75.89" stroke="#555" stroke-width="0.8"/>
<line x1="375.5" y1="71.87" x2="377.1" y2="71.87" stroke="#555" stroke-width="0.8"/>
<line x1="583.75" y1="71.87" x2="582.15" y2="71.87" stroke="#555" stroke-width="0.8"/>
<line x1="375.5" y1="68.47" x2="377.1" y2="68.47" stroke="#555" stroke-width="0.8"/>
<line x1="583.75" y1="68.47" x2="582.15" y2="68.47" stroke="#555" stroke-width="0.8"/>
<line x1="375.5" y1="65.52" x2="377.1" y2="65.52" stroke="#555" stroke-width="0.8"/>
<line x1="583.75" y1="65.52" x2="582.15" y2="65.52" stroke="#555" stroke-width="0.8"/>
<line x1="375.5" y1="62.92" x2="377.1" y2="62.92" stroke="#555" stroke-width="0.8"/>
<line x1="583.75" y1="62.92" x2="582.15" y2="62.92" stroke="#555" stroke-width="0.8"/>
<line x1="375.5" y1="45.31" x2="377.1" y2="45.31" stroke="#555" stroke-width="0.8"/>
<line x1="583.75" y1="45.31" x2="582.15" y2="45.31" stroke="#555" stroke-width="0.8"/>
<line x1="375.5" y1="36.36" x2="377.1" y2="36.36" stroke="#555" stroke-width="0.8"/>
<line x1="583.75" y1="36.36" x2="582.15" y2="36.36" stroke="#555" stroke-width="0.8"/>
<line x1="375.5" y1="30.02" x2="377.1" y2="30.02" stroke="#555" stroke-width="0.8"/>
<line x1="583.75" y1="30.02" x2="582.15" y2="30.02" stroke="#555" stroke-width="0.8"/>
<line x1="375.5" y1="25.09" x2="377.1" y2="25.09" stroke="#555" stroke-width="0.8"/>
<line x1="583.75" y1="25.09" x2="582.15" y2="25.09" stroke="#555" stroke-width="0.8"/>
<line x1="375.5" y1="21.07" x2="377.1" y2="21.07" stroke="#555" stroke-width="0.8"/>
<line x1="583.75" y1="21.07" x2="582.15" y2="21.07" stroke="#555" stroke-width="0.8"/>
<line x1="375.5" y1="17.67" x2="377.1" y2="17.67" stroke="#555" stroke-width="0.8"/>
<line x1="583.75" y1="17.67" x2="582.15" y2="17.67" stroke="#555" stroke-width="0.8"/>
<line x1="375.5" y1="14.72" x2="377.1" y2="14.72" stroke="#555" stroke-width="0.8"/>
<line x1="583.75" y1="14.72" x2="582.15" y2="14.72" stroke="#555" stroke-width="0.8"/>
<line x1="375.5" y1="12.12" x2="377.1" y2="12.12" stroke="#555" stroke-width="0.8"/>
<line x1="583.75" y1="12.12" x2="582.15" y2="12.12" stroke="#555" stroke-width="0.8"/>
<line x1="375.5" y1="60.6" x2="378.1" y2="60.6" stroke="#555" stroke-width="1.1"/>
<line x1="583.75" y1="60.6" x2="581.15" y2="60.6" stroke="#555" stroke-width="1.1"/>
<text x="371.9" y="13.8" font-size="10.6" text-anchor="end">10<tspan dy="-5.6" font-size="7">30</tspan></text>
<text x="371.9" y="64.6" font-size="10.6" text-anchor="end">10<tspan dy="-5.6" font-size="7">29</tspan></text>
<text x="371.9" y="115.4" font-size="10.6" text-anchor="end">10<tspan dy="-5.6" font-size="7">28</tspan></text>
<path d="M382.31 51.9H389.51M385.91 48.3V55.5" stroke="#222" stroke-width="0.9"/>
<path d="M382.71 74.5H389.11M385.91 71.3V77.7M383.65 72.24L388.17 76.76M383.65 76.76L388.17 72.24" stroke="#111" stroke-width="0.9"/>
<path d="M392.72 51.9H399.93M396.32 48.3V55.5" stroke="#222" stroke-width="0.9"/>
<path d="M393.12 79.4H399.52M396.32 76.2V82.6M394.06 77.14L398.59 81.66M394.06 81.66L398.59 77.14" stroke="#111" stroke-width="0.9"/>
<path d="M403.14 51.9H410.34M406.74 48.3V55.5" stroke="#222" stroke-width="0.9"/>
<path d="M403.54 84.6H409.94M406.74 81.4V87.8M404.48 82.34L409 86.86M404.48 86.86L409 82.34" stroke="#111" stroke-width="0.9"/>
<path d="M413.55 51.9H420.75M417.15 48.3V55.5" stroke="#222" stroke-width="0.9"/>
<path d="M413.95 87.3H420.35M417.15 84.1V90.5M414.89 85.04L419.41 89.56M414.89 89.56L419.41 85.04" stroke="#111" stroke-width="0.9"/>
<path d="M423.96 51.9H431.16M427.56 48.3V55.5" stroke="#222" stroke-width="0.9"/>
<path d="M424.36 89.5H430.76M427.56 86.3V92.7M425.3 87.24L429.82 91.76M425.3 91.76L429.82 87.24" stroke="#111" stroke-width="0.9"/>
<path d="M434.38 51.9H441.58M437.98 48.3V55.5" stroke="#222" stroke-width="0.9"/>
<path d="M434.78 93.4H441.18M437.98 90.2V96.6M435.71 91.14L440.24 95.66M435.71 95.66L440.24 91.14" stroke="#111" stroke-width="0.9"/>
<path d="M444.79 51.9H451.99M448.39 48.3V55.5" stroke="#222" stroke-width="0.9"/>
<path d="M445.19 95.9H451.59M448.39 92.7V99.1M446.13 93.64L450.65 98.16M446.13 98.16L450.65 93.64" stroke="#111" stroke-width="0.9"/>
<path d="M455.2 51.9H462.4M458.8 48.3V55.5" stroke="#222" stroke-width="0.9"/>
<path d="M455.6 98.1H462M458.8 94.9V101.3M456.54 95.84L461.06 100.36M456.54 100.36L461.06 95.84" stroke="#111" stroke-width="0.9"/>
<path d="M465.61 51.7H472.81M469.21 48.1V55.3" stroke="#222" stroke-width="0.9"/>
<path d="M466.01 99.7H472.41M469.21 96.5V102.9M466.95 97.44L471.47 101.96M466.95 101.96L471.47 97.44" stroke="#111" stroke-width="0.9"/>
<path d="M476.02 51.7H483.23M479.62 48.1V55.3" stroke="#222" stroke-width="0.9"/>
<path d="M476.43 102.1H482.82M479.62 98.9V105.3M477.36 99.84L481.89 104.36M477.36 104.36L481.89 99.84" stroke="#111" stroke-width="0.9"/>
<path d="M486.44 51.7H493.64M490.04 48.1V55.3" stroke="#222" stroke-width="0.9"/>
<path d="M486.84 104.3H493.24M490.04 101.1V107.5M487.78 102.04L492.3 106.56M487.78 106.56L492.3 102.04" stroke="#111" stroke-width="0.9"/>
<path d="M496.85 52.2H504.05M500.45 48.6V55.8" stroke="#222" stroke-width="0.9"/>
<path d="M497.25 104.6H503.65M500.45 101.4V107.8M498.19 102.34L502.71 106.86M498.19 106.86L502.71 102.34" stroke="#111" stroke-width="0.9"/>
<path d="M507.26 51.7H514.46M510.86 48.1V55.3" stroke="#222" stroke-width="0.9"/>
<path d="M507.66 105H514.06M510.86 101.8V108.2M508.6 102.74L513.12 107.26M508.6 107.26L513.12 102.74" stroke="#111" stroke-width="0.9"/>
<path d="M517.67 51.2H524.88M521.27 47.6V54.8" stroke="#222" stroke-width="0.9"/>
<path d="M518.07 104.3H524.48M521.27 101.1V107.5M519.01 102.04L523.54 106.56M519.01 106.56L523.54 102.04" stroke="#111" stroke-width="0.9"/>
<path d="M528.09 52.2H535.29M531.69 48.6V55.8" stroke="#222" stroke-width="0.9"/>
<path d="M528.49 105.8H534.89M531.69 102.6V109M529.43 103.54L533.95 108.06M529.43 108.06L533.95 103.54" stroke="#111" stroke-width="0.9"/>
<path d="M538.5 52.7H545.7M542.1 49.1V56.3" stroke="#222" stroke-width="0.9"/>
<path d="M538.9 106.3H545.3M542.1 103.1V109.5M539.84 104.04L544.36 108.56M539.84 108.56L544.36 104.04" stroke="#111" stroke-width="0.9"/>
<path d="M548.91 51.2H556.11M552.51 47.6V54.8" stroke="#222" stroke-width="0.9"/>
<path d="M549.31 104.6H555.71M552.51 101.4V107.8M550.25 102.34L554.77 106.86M550.25 106.86L554.77 102.34" stroke="#111" stroke-width="0.9"/>
<path d="M559.32 50.7H566.52M562.92 47.1V54.3" stroke="#222" stroke-width="0.9"/>
<path d="M559.72 105H566.12M562.92 101.8V108.2M560.66 102.74L565.19 107.26M560.66 107.26L565.19 102.74" stroke="#111" stroke-width="0.9"/>
<path d="M569.74 51.7H576.94M573.34 48.1V55.3" stroke="#222" stroke-width="0.9"/>
<path d="M570.14 105H576.54M573.34 101.8V108.2M571.08 102.74L575.6 107.26M571.08 107.26L575.6 102.74" stroke="#111" stroke-width="0.9"/>
<path d="M580.15 52.2H587.35M583.75 48.6V55.8" stroke="#222" stroke-width="0.9"/>
<path d="M580.55 106.8H586.95M583.75 103.6V110M581.49 104.54L586.01 109.06M581.49 109.06L586.01 104.54" stroke="#111" stroke-width="0.9"/>
<text transform="translate(339.9,60.6) rotate(-90)" font-size="11.4" text-anchor="middle">EM(T<tspan dy="3.6" font-size="8">max</tspan><tspan dy="-3.6">)</tspan></text>
<line x1="375.4" y1="177.7" x2="586.8" y2="177.7" stroke="#999" stroke-width="1.0" stroke-dasharray="1 3.8"/>
<line x1="375.4" y1="196.7" x2="586.8" y2="196.7" stroke="#999" stroke-width="1.5" stroke-dasharray="6.4 6.4"/>
<line x1="375.4" y1="206.2" x2="586.8" y2="206.2" stroke="#444" stroke-width="0.9"/>
<rect x="375.4" y="130.2" width="211.4" height="95" fill="none" stroke="#555" stroke-width="1.1"/>
<line x1="417.68" y1="225.2" x2="417.68" y2="222.6" stroke="#555" stroke-width="1.1"/>
<line x1="417.68" y1="130.2" x2="417.68" y2="132.8" stroke="#555" stroke-width="1.1"/>
<line x1="459.96" y1="225.2" x2="459.96" y2="222.6" stroke="#555" stroke-width="1.1"/>
<line x1="459.96" y1="130.2" x2="459.96" y2="132.8" stroke="#555" stroke-width="1.1"/>
<line x1="502.24" y1="225.2" x2="502.24" y2="222.6" stroke="#555" stroke-width="1.1"/>
<line x1="502.24" y1="130.2" x2="502.24" y2="132.8" stroke="#555" stroke-width="1.1"/>
<line x1="544.52" y1="225.2" x2="544.52" y2="222.6" stroke="#555" stroke-width="1.1"/>
<line x1="544.52" y1="130.2" x2="544.52" y2="132.8" stroke="#555" stroke-width="1.1"/>
<line x1="375.4" y1="177.7" x2="378" y2="177.7" stroke="#555" stroke-width="1.1"/>
<line x1="586.8" y1="177.7" x2="584.2" y2="177.7" stroke="#555" stroke-width="1.1"/>
<text x="372.4" y="135.1" font-size="10.6" text-anchor="end" >10</text>
<text x="372.4" y="182.6" font-size="10.6" text-anchor="end" >5</text>
<text x="372.4" y="230.1" font-size="10.6" text-anchor="end" >0</text>
<path d="M414.48 143.9H420.88M417.68 140.7V147.1M415.42 141.64L419.94 146.16M415.42 146.16L419.94 141.64" stroke="#111" stroke-width="0.9"/>
<path d="M425.05 150.4H431.45M428.25 147.2V153.6M425.99 148.14L430.51 152.66M425.99 152.66L430.51 148.14" stroke="#111" stroke-width="0.9"/>
<path d="M435.62 161.5H442.02M438.82 158.3V164.7M436.56 159.24L441.08 163.76M436.56 163.76L441.08 159.24" stroke="#111" stroke-width="0.9"/>
<path d="M446.19 161.5H452.59M449.39 158.3V164.7M447.13 159.24L451.65 163.76M447.13 163.76L451.65 159.24" stroke="#111" stroke-width="0.9"/>
<path d="M456.76 167.6H463.16M459.96 164.4V170.8M457.7 165.34L462.22 169.86M457.7 169.86L462.22 165.34" stroke="#111" stroke-width="0.9"/>
<path d="M467.33 177.6H473.73M470.53 174.4V180.8M468.27 175.34L472.79 179.86M468.27 179.86L472.79 175.34" stroke="#111" stroke-width="0.9"/>
<path d="M477.9 189.6H484.3M481.1 186.4V192.8M478.84 187.34L483.36 191.86M478.84 191.86L483.36 187.34" stroke="#111" stroke-width="0.9"/>
<path d="M488.47 196.5H494.87M491.67 193.3V199.7M489.41 194.24L493.93 198.76M489.41 198.76L493.93 194.24" stroke="#111" stroke-width="0.9"/>
<path d="M499.04 204.8H505.44M502.24 201.6V208M499.98 202.54L504.5 207.06M499.98 207.06L504.5 202.54" stroke="#111" stroke-width="0.9"/>
<path d="M509.61 204.8H516.01M512.81 201.6V208M510.55 202.54L515.07 207.06M510.55 207.06L515.07 202.54" stroke="#111" stroke-width="0.9"/>
<path d="M520.18 204.8H526.58M523.38 201.6V208M521.12 202.54L525.64 207.06M521.12 207.06L525.64 202.54" stroke="#111" stroke-width="0.9"/>
<path d="M530.75 204.8H537.15M533.95 201.6V208M531.69 202.54L536.21 207.06M531.69 207.06L536.21 202.54" stroke="#111" stroke-width="0.9"/>
<path d="M541.32 204.8H547.72M544.52 201.6V208M542.26 202.54L546.78 207.06M542.26 207.06L546.78 202.54" stroke="#111" stroke-width="0.9"/>
<path d="M551.89 204.8H558.29M555.09 201.6V208M552.83 202.54L557.35 207.06M552.83 207.06L557.35 202.54" stroke="#111" stroke-width="0.9"/>
<path d="M562.46 204.8H568.86M565.66 201.6V208M563.4 202.54L567.92 207.06M563.4 207.06L567.92 202.54" stroke="#111" stroke-width="0.9"/>
<path d="M573.03 204.8H579.43M576.23 201.6V208M573.97 202.54L578.49 207.06M573.97 207.06L578.49 202.54" stroke="#111" stroke-width="0.9"/>
<path d="M583.6 204.8H590M586.8 201.6V208M584.54 202.54L589.06 207.06M584.54 207.06L589.06 202.54" stroke="#111" stroke-width="0.9"/>
<circle cx="417.68" cy="150.4" r="3.4" fill="none" stroke="#222" stroke-width="0.9"/>
<circle cx="428.25" cy="171.8" r="3.4" fill="none" stroke="#222" stroke-width="0.9"/>
<circle cx="438.82" cy="161.5" r="3.4" fill="none" stroke="#222" stroke-width="0.9"/>
<circle cx="449.39" cy="175.8" r="3.4" fill="none" stroke="#222" stroke-width="0.9"/>
<circle cx="459.96" cy="184.9" r="3.4" fill="none" stroke="#222" stroke-width="0.9"/>
<circle cx="470.53" cy="191.4" r="3.4" fill="none" stroke="#222" stroke-width="0.9"/>
<circle cx="481.1" cy="201" r="3.4" fill="none" stroke="#222" stroke-width="0.9"/>
<circle cx="491.67" cy="201.6" r="3.4" fill="none" stroke="#222" stroke-width="0.9"/>
<circle cx="502.24" cy="200.1" r="3.4" fill="none" stroke="#222" stroke-width="0.9"/>
<circle cx="512.81" cy="200.4" r="3.4" fill="none" stroke="#222" stroke-width="0.9"/>
<circle cx="523.38" cy="198.9" r="3.4" fill="none" stroke="#222" stroke-width="0.9"/>
<circle cx="533.95" cy="199.8" r="3.4" fill="none" stroke="#222" stroke-width="0.9"/>
<circle cx="544.52" cy="199.8" r="3.4" fill="none" stroke="#222" stroke-width="0.9"/>
<circle cx="555.09" cy="199" r="3.4" fill="none" stroke="#222" stroke-width="0.9"/>
<circle cx="565.66" cy="199.8" r="3.4" fill="none" stroke="#222" stroke-width="0.9"/>
<circle cx="576.23" cy="199" r="3.4" fill="none" stroke="#222" stroke-width="0.9"/>
<circle cx="586.8" cy="199" r="3.4" fill="none" stroke="#222" stroke-width="0.9"/>
<text transform="translate(352,175.7) rotate(-90)" font-size="13.2" font-style="italic" stroke="#111" stroke-width="0.15" text-anchor="middle">a</text>
<rect x="374.3" y="242.5" width="213.4" height="88.6" fill="none" stroke="#555" stroke-width="1.1"/>
<line x1="416.98" y1="331.1" x2="416.98" y2="328.5" stroke="#555" stroke-width="1.1"/>
<line x1="416.98" y1="242.5" x2="416.98" y2="245.1" stroke="#555" stroke-width="1.1"/>
<line x1="459.66" y1="331.1" x2="459.66" y2="328.5" stroke="#555" stroke-width="1.1"/>
<line x1="459.66" y1="242.5" x2="459.66" y2="245.1" stroke="#555" stroke-width="1.1"/>
<line x1="502.34" y1="331.1" x2="502.34" y2="328.5" stroke="#555" stroke-width="1.1"/>
<line x1="502.34" y1="242.5" x2="502.34" y2="245.1" stroke="#555" stroke-width="1.1"/>
<line x1="545.02" y1="331.1" x2="545.02" y2="328.5" stroke="#555" stroke-width="1.1"/>
<line x1="545.02" y1="242.5" x2="545.02" y2="245.1" stroke="#555" stroke-width="1.1"/>
<line x1="374.3" y1="317.76" x2="375.9" y2="317.76" stroke="#555" stroke-width="0.8"/>
<line x1="587.7" y1="317.76" x2="586.1" y2="317.76" stroke="#555" stroke-width="0.8"/>
<line x1="374.3" y1="309.96" x2="375.9" y2="309.96" stroke="#555" stroke-width="0.8"/>
<line x1="587.7" y1="309.96" x2="586.1" y2="309.96" stroke="#555" stroke-width="0.8"/>
<line x1="374.3" y1="304.43" x2="375.9" y2="304.43" stroke="#555" stroke-width="0.8"/>
<line x1="587.7" y1="304.43" x2="586.1" y2="304.43" stroke="#555" stroke-width="0.8"/>
<line x1="374.3" y1="300.14" x2="375.9" y2="300.14" stroke="#555" stroke-width="0.8"/>
<line x1="587.7" y1="300.14" x2="586.1" y2="300.14" stroke="#555" stroke-width="0.8"/>
<line x1="374.3" y1="296.63" x2="375.9" y2="296.63" stroke="#555" stroke-width="0.8"/>
<line x1="587.7" y1="296.63" x2="586.1" y2="296.63" stroke="#555" stroke-width="0.8"/>
<line x1="374.3" y1="293.66" x2="375.9" y2="293.66" stroke="#555" stroke-width="0.8"/>
<line x1="587.7" y1="293.66" x2="586.1" y2="293.66" stroke="#555" stroke-width="0.8"/>
<line x1="374.3" y1="291.09" x2="375.9" y2="291.09" stroke="#555" stroke-width="0.8"/>
<line x1="587.7" y1="291.09" x2="586.1" y2="291.09" stroke="#555" stroke-width="0.8"/>
<line x1="374.3" y1="288.83" x2="375.9" y2="288.83" stroke="#555" stroke-width="0.8"/>
<line x1="587.7" y1="288.83" x2="586.1" y2="288.83" stroke="#555" stroke-width="0.8"/>
<line x1="374.3" y1="273.46" x2="375.9" y2="273.46" stroke="#555" stroke-width="0.8"/>
<line x1="587.7" y1="273.46" x2="586.1" y2="273.46" stroke="#555" stroke-width="0.8"/>
<line x1="374.3" y1="265.66" x2="375.9" y2="265.66" stroke="#555" stroke-width="0.8"/>
<line x1="587.7" y1="265.66" x2="586.1" y2="265.66" stroke="#555" stroke-width="0.8"/>
<line x1="374.3" y1="260.13" x2="375.9" y2="260.13" stroke="#555" stroke-width="0.8"/>
<line x1="587.7" y1="260.13" x2="586.1" y2="260.13" stroke="#555" stroke-width="0.8"/>
<line x1="374.3" y1="255.84" x2="375.9" y2="255.84" stroke="#555" stroke-width="0.8"/>
<line x1="587.7" y1="255.84" x2="586.1" y2="255.84" stroke="#555" stroke-width="0.8"/>
<line x1="374.3" y1="252.33" x2="375.9" y2="252.33" stroke="#555" stroke-width="0.8"/>
<line x1="587.7" y1="252.33" x2="586.1" y2="252.33" stroke="#555" stroke-width="0.8"/>
<line x1="374.3" y1="249.36" x2="375.9" y2="249.36" stroke="#555" stroke-width="0.8"/>
<line x1="587.7" y1="249.36" x2="586.1" y2="249.36" stroke="#555" stroke-width="0.8"/>
<line x1="374.3" y1="246.79" x2="375.9" y2="246.79" stroke="#555" stroke-width="0.8"/>
<line x1="587.7" y1="246.79" x2="586.1" y2="246.79" stroke="#555" stroke-width="0.8"/>
<line x1="374.3" y1="244.53" x2="375.9" y2="244.53" stroke="#555" stroke-width="0.8"/>
<line x1="587.7" y1="244.53" x2="586.1" y2="244.53" stroke="#555" stroke-width="0.8"/>
<line x1="374.3" y1="286.8" x2="376.9" y2="286.8" stroke="#555" stroke-width="1.1"/>
<line x1="587.7" y1="286.8" x2="585.1" y2="286.8" stroke="#555" stroke-width="1.1"/>
<text x="370.7" y="246.5" font-size="10.6" text-anchor="end">10<tspan dy="-5.6" font-size="7">30</tspan></text>
<text x="370.7" y="290.8" font-size="10.6" text-anchor="end">10<tspan dy="-5.6" font-size="7">29</tspan></text>
<text x="370.7" y="335.1" font-size="10.6" text-anchor="end">10<tspan dy="-5.6" font-size="7">28</tspan></text>
<path d="M381.37 279.4H388.57M384.97 275.8V283" stroke="#222" stroke-width="0.9"/>
<path d="M381.77 300H388.17M384.97 296.8V303.2M382.71 297.74L387.23 302.26M382.71 302.26L387.23 297.74" stroke="#111" stroke-width="0.9"/>
<path d="M392.04 278.9H399.24M395.64 275.3V282.5" stroke="#222" stroke-width="0.9"/>
<path d="M392.44 306.7H398.84M395.64 303.5V309.9M393.38 304.44L397.9 308.96M393.38 308.96L397.9 304.44" stroke="#111" stroke-width="0.9"/>
<path d="M402.71 280.4H409.91M406.31 276.8V284" stroke="#222" stroke-width="0.9"/>
<path d="M403.11 310.2H409.51M406.31 307V313.4M404.05 307.94L408.57 312.46M404.05 312.46L408.57 307.94" stroke="#111" stroke-width="0.9"/>
<path d="M413.38 279.7H420.58M416.98 276.1V283.3" stroke="#222" stroke-width="0.9"/>
<path d="M413.78 311.9H420.18M416.98 308.7V315.1M414.72 309.64L419.24 314.16M414.72 314.16L419.24 309.64" stroke="#111" stroke-width="0.9"/>
<path d="M424.05 278.2H431.25M427.65 274.6V281.8" stroke="#222" stroke-width="0.9"/>
<path d="M424.45 313.1H430.85M427.65 309.9V316.3M425.39 310.84L429.91 315.36M425.39 315.36L429.91 310.84" stroke="#111" stroke-width="0.9"/>
<path d="M434.72 278.7H441.92M438.32 275.1V282.3" stroke="#222" stroke-width="0.9"/>
<path d="M435.12 315.6H441.52M438.32 312.4V318.8M436.06 313.34L440.58 317.86M436.06 317.86L440.58 313.34" stroke="#111" stroke-width="0.9"/>
<path d="M445.39 278.2H452.59M448.99 274.6V281.8" stroke="#222" stroke-width="0.9"/>
<path d="M445.79 317.3H452.19M448.99 314.1V320.5M446.73 315.04L451.25 319.56M446.73 319.56L451.25 315.04" stroke="#111" stroke-width="0.9"/>
<path d="M456.06 278.4H463.26M459.66 274.8V282" stroke="#222" stroke-width="0.9"/>
<path d="M456.46 319.7H462.86M459.66 316.5V322.9M457.4 317.44L461.92 321.96M457.4 321.96L461.92 317.44" stroke="#111" stroke-width="0.9"/>
<path d="M466.73 277.5H473.93M470.33 273.9V281.1" stroke="#222" stroke-width="0.9"/>
<path d="M467.13 322.3H473.53M470.33 319.1V325.5M468.07 320.04L472.59 324.56M468.07 324.56L472.59 320.04" stroke="#111" stroke-width="0.9"/>
<path d="M477.4 278.7H484.6M481 275.1V282.3" stroke="#222" stroke-width="0.9"/>
<path d="M477.8 323.5H484.2M481 320.3V326.7M478.74 321.24L483.26 325.76M478.74 325.76L483.26 321.24" stroke="#111" stroke-width="0.9"/>
<path d="M488.07 278.7H495.27M491.67 275.1V282.3" stroke="#222" stroke-width="0.9"/>
<path d="M488.47 324.7H494.87M491.67 321.5V327.9M489.41 322.44L493.93 326.96M489.41 326.96L493.93 322.44" stroke="#111" stroke-width="0.9"/>
<path d="M498.74 278.7H505.94M502.34 275.1V282.3" stroke="#222" stroke-width="0.9"/>
<path d="M499.14 326H505.54M502.34 322.8V329.2M500.08 323.74L504.6 328.26M500.08 328.26L504.6 323.74" stroke="#111" stroke-width="0.9"/>
<path d="M509.41 278.7H516.61M513.01 275.1V282.3" stroke="#222" stroke-width="0.9"/>
<path d="M509.81 327.2H516.21M513.01 324V330.4M510.75 324.94L515.27 329.46M510.75 329.46L515.27 324.94" stroke="#111" stroke-width="0.9"/>
<path d="M520.08 279.2H527.28M523.68 275.6V282.8" stroke="#222" stroke-width="0.9"/>
<path d="M520.48 327.2H526.88M523.68 324V330.4M521.42 324.94L525.94 329.46M521.42 329.46L525.94 324.94" stroke="#111" stroke-width="0.9"/>
<path d="M530.75 278.5H537.95M534.35 274.9V282.1" stroke="#222" stroke-width="0.9"/>
<path d="M531.15 326.7H537.55M534.35 323.5V329.9M532.09 324.44L536.61 328.96M532.09 328.96L536.61 324.44" stroke="#111" stroke-width="0.9"/>
<path d="M541.42 279.7H548.62M545.02 276.1V283.3" stroke="#222" stroke-width="0.9"/>
<path d="M541.82 326H548.22M545.02 322.8V329.2M542.76 323.74L547.28 328.26M542.76 328.26L547.28 323.74" stroke="#111" stroke-width="0.9"/>
<path d="M552.09 278.7H559.29M555.69 275.1V282.3" stroke="#222" stroke-width="0.9"/>
<path d="M552.49 325.5H558.89M555.69 322.3V328.7M553.43 323.24L557.95 327.76M553.43 327.76L557.95 323.24" stroke="#111" stroke-width="0.9"/>
<path d="M562.76 278.7H569.96M566.36 275.1V282.3" stroke="#222" stroke-width="0.9"/>
<path d="M563.16 326.5H569.56M566.36 323.3V329.7M564.1 324.24L568.62 328.76M564.1 328.76L568.62 324.24" stroke="#111" stroke-width="0.9"/>
<path d="M573.43 277.5H580.63M577.03 273.9V281.1" stroke="#222" stroke-width="0.9"/>
<path d="M573.83 326.7H580.23M577.03 323.5V329.9M574.77 324.44L579.29 328.96M574.77 328.96L579.29 324.44" stroke="#111" stroke-width="0.9"/>
<path d="M584.1 276.8H591.3M587.7 273.2V280.4" stroke="#222" stroke-width="0.9"/>
<path d="M584.5 327.4H590.9M587.7 324.2V330.6M585.44 325.14L589.96 329.66M585.44 329.66L589.96 325.14" stroke="#111" stroke-width="0.9"/>
<text transform="translate(342.3,286.8) rotate(-90)" font-size="11.4" text-anchor="middle">EM(T<tspan dy="3.6" font-size="8">max</tspan><tspan dy="-3.6">)</tspan></text>
<line x1="375.5" y1="400.75" x2="588" y2="400.75" stroke="#999" stroke-width="1.0" stroke-dasharray="1 3.8"/>
<line x1="375.5" y1="421.09" x2="588" y2="421.09" stroke="#555" stroke-width="1.0" stroke-dasharray="6.4 6.4"/>
<line x1="375.5" y1="431.26" x2="588" y2="431.26" stroke="#444" stroke-width="0.9"/>
<rect x="375.5" y="349.9" width="212.5" height="101.7" fill="none" stroke="#555" stroke-width="1.1"/>
<line x1="418" y1="451.6" x2="418" y2="449" stroke="#555" stroke-width="1.1"/>
<line x1="418" y1="349.9" x2="418" y2="352.5" stroke="#555" stroke-width="1.1"/>
<line x1="460.5" y1="451.6" x2="460.5" y2="449" stroke="#555" stroke-width="1.1"/>
<line x1="460.5" y1="349.9" x2="460.5" y2="352.5" stroke="#555" stroke-width="1.1"/>
<line x1="503" y1="451.6" x2="503" y2="449" stroke="#555" stroke-width="1.1"/>
<line x1="503" y1="349.9" x2="503" y2="352.5" stroke="#555" stroke-width="1.1"/>
<line x1="545.5" y1="451.6" x2="545.5" y2="449" stroke="#555" stroke-width="1.1"/>
<line x1="545.5" y1="349.9" x2="545.5" y2="352.5" stroke="#555" stroke-width="1.1"/>
<line x1="375.5" y1="400.75" x2="378.1" y2="400.75" stroke="#555" stroke-width="1.1"/>
<line x1="588" y1="400.75" x2="585.4" y2="400.75" stroke="#555" stroke-width="1.1"/>
<text x="372.5" y="354.8" font-size="10.6" text-anchor="end" >10</text>
<text x="372.5" y="405.65" font-size="10.6" text-anchor="end" >5</text>
<text x="372.5" y="456.5" font-size="10.6" text-anchor="end" >0</text>
<path d="M436.05 374H442.45M439.25 370.8V377.2M436.99 371.74L441.51 376.26M436.99 376.26L441.51 371.74" stroke="#111" stroke-width="0.9"/>
<path d="M446.68 379.4H453.07M449.88 376.2V382.6M447.61 377.14L452.14 381.66M447.61 381.66L452.14 377.14" stroke="#111" stroke-width="0.9"/>
<path d="M457.3 387H463.7M460.5 383.8V390.2M458.24 384.74L462.76 389.26M458.24 389.26L462.76 384.74" stroke="#111" stroke-width="0.9"/>
<path d="M467.93 407.9H474.32M471.12 404.7V411.1M468.86 405.64L473.39 410.16M468.86 410.16L473.39 405.64" stroke="#111" stroke-width="0.9"/>
<path d="M478.55 409.4H484.95M481.75 406.2V412.6M479.49 407.14L484.01 411.66M479.49 411.66L484.01 407.14" stroke="#111" stroke-width="0.9"/>
<path d="M489.18 422.4H495.57M492.38 419.2V425.6M490.11 420.14L494.64 424.66M490.11 424.66L494.64 420.14" stroke="#111" stroke-width="0.9"/>
<path d="M499.8 430H506.2M503 426.8V433.2M500.74 427.74L505.26 432.26M500.74 432.26L505.26 427.74" stroke="#111" stroke-width="0.9"/>
<path d="M510.43 430.6H516.83M513.62 427.4V433.8M511.36 428.34L515.89 432.86M511.36 432.86L515.89 428.34" stroke="#111" stroke-width="0.9"/>
<path d="M521.05 430H527.45M524.25 426.8V433.2M521.99 427.74L526.51 432.26M521.99 432.26L526.51 427.74" stroke="#111" stroke-width="0.9"/>
<path d="M531.67 430H538.08M534.88 426.8V433.2M532.61 427.74L537.14 432.26M532.61 432.26L537.14 427.74" stroke="#111" stroke-width="0.9"/>
<path d="M542.3 430H548.7M545.5 426.8V433.2M543.24 427.74L547.76 432.26M543.24 432.26L547.76 427.74" stroke="#111" stroke-width="0.9"/>
<path d="M552.92 430H559.33M556.12 426.8V433.2M553.86 427.74L558.39 432.26M553.86 432.26L558.39 427.74" stroke="#111" stroke-width="0.9"/>
<path d="M563.55 430H569.95M566.75 426.8V433.2M564.49 427.74L569.01 432.26M564.49 432.26L569.01 427.74" stroke="#111" stroke-width="0.9"/>
<path d="M574.17 430H580.58M577.38 426.8V433.2M575.11 427.74L579.64 432.26M575.11 432.26L579.64 427.74" stroke="#111" stroke-width="0.9"/>
<path d="M584.8 430H591.2M588 426.8V433.2M585.74 427.74L590.26 432.26M585.74 432.26L590.26 427.74" stroke="#111" stroke-width="0.9"/>
<circle cx="439.25" cy="393" r="3.4" fill="none" stroke="#222" stroke-width="0.9"/>
<circle cx="449.88" cy="387.9" r="3.4" fill="none" stroke="#222" stroke-width="0.9"/>
<circle cx="460.5" cy="409.4" r="3.4" fill="none" stroke="#222" stroke-width="0.9"/>
<circle cx="471.12" cy="418.8" r="3.4" fill="none" stroke="#222" stroke-width="0.9"/>
<circle cx="481.75" cy="425.5" r="3.4" fill="none" stroke="#222" stroke-width="0.9"/>
<circle cx="492.38" cy="425.8" r="3.4" fill="none" stroke="#222" stroke-width="0.9"/>
<circle cx="503" cy="424.8" r="3.4" fill="none" stroke="#222" stroke-width="0.9"/>
<circle cx="513.62" cy="424.8" r="3.4" fill="none" stroke="#222" stroke-width="0.9"/>
<circle cx="524.25" cy="423.6" r="3.4" fill="none" stroke="#222" stroke-width="0.9"/>
<circle cx="534.88" cy="424.2" r="3.4" fill="none" stroke="#222" stroke-width="0.9"/>
<circle cx="545.5" cy="424.2" r="3.4" fill="none" stroke="#222" stroke-width="0.9"/>
<circle cx="556.12" cy="424.2" r="3.4" fill="none" stroke="#222" stroke-width="0.9"/>
<circle cx="566.75" cy="424.2" r="3.4" fill="none" stroke="#222" stroke-width="0.9"/>
<circle cx="577.38" cy="424.2" r="3.4" fill="none" stroke="#222" stroke-width="0.9"/>
<circle cx="588" cy="424.2" r="3.4" fill="none" stroke="#222" stroke-width="0.9"/>
<text transform="translate(352.1,398.75) rotate(-90)" font-size="13.2" font-style="italic" stroke="#111" stroke-width="0.15" text-anchor="middle">a</text>
<text x="375.5" y="464.8" font-size="10.6" text-anchor="middle" >0</text>
<text x="418" y="464.8" font-size="10.6" text-anchor="middle" >1000</text>
<text x="460.5" y="464.8" font-size="10.6" text-anchor="middle" >2000</text>
<text x="503" y="464.8" font-size="10.6" text-anchor="middle" >3000</text>
<text x="545.5" y="464.8" font-size="10.6" text-anchor="middle" >4000</text>
<text x="588" y="464.8" font-size="10.6" text-anchor="middle" >5000</text>
<text x="481.75" y="477.6" font-size="10.8" text-anchor="middle">T<tspan dy="4.6" font-size="8.4">N</tspan><tspan dy="-4.6"> (s)</tspan></text>
</svg></body></html>
